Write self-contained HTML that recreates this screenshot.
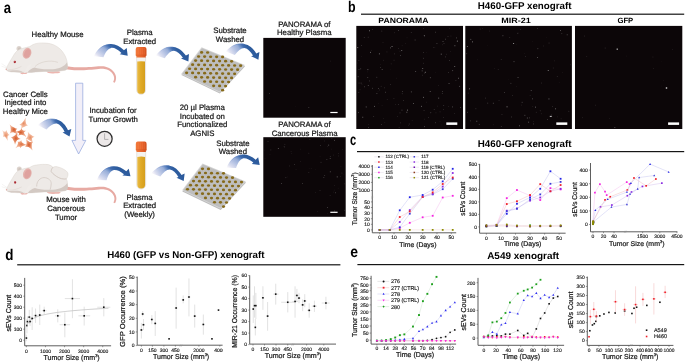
<!DOCTYPE html>
<html lang="en"><head><meta charset="utf-8"><title>Figure</title>
<style>
html,body{margin:0;padding:0;background:#fff;}
body{width:685px;height:363px;overflow:hidden;font-family:'Liberation Sans', sans-serif;}
svg{display:block;font-family:'Liberation Sans', sans-serif;text-rendering:geometricPrecision;}
</style></head><body>
<svg width="685" height="363" viewBox="0 0 685 363">
<defs>
<linearGradient id="ag" x1="0.02" y1="0.95" x2="0.98" y2="0.5">
<stop offset="0" stop-color="#f6f2f8" stop-opacity="0.35"/>
<stop offset="0.13" stop-color="#dfe1f1"/>
<stop offset="0.33" stop-color="#b7c4e4"/>
<stop offset="0.5" stop-color="#98aed8"/>
<stop offset="0.58" stop-color="#7092c8"/>
<stop offset="0.68" stop-color="#3f6bae"/>
<stop offset="0.8" stop-color="#2f5ea0"/>
<stop offset="1" stop-color="#2a5899"/>
</linearGradient>
<linearGradient id="ag2" x1="0" y1="0" x2="1" y2="0">
<stop offset="0" stop-color="#6d8cc6" stop-opacity="0"/>
<stop offset="0.5" stop-color="#5f82c0" stop-opacity="0.9"/>
<stop offset="1" stop-color="#4a74b6"/>
</linearGradient>
<radialGradient id="cellD"><stop offset="0" stop-color="#d25a2a"/><stop offset="0.3" stop-color="#e07a4e"/><stop offset="1" stop-color="#f3b89c"/></radialGradient>
<radialGradient id="cellM"><stop offset="0" stop-color="#dc7042"/><stop offset="0.3" stop-color="#e88e64"/><stop offset="1" stop-color="#f5c2a8"/></radialGradient>
<radialGradient id="cellL"><stop offset="0" stop-color="#e58c60"/><stop offset="0.3" stop-color="#eea684"/><stop offset="1" stop-color="#f8d2be"/></radialGradient>
<linearGradient id="tubeg" x1="0" y1="0" x2="1" y2="0">
<stop offset="0" stop-color="#e9bc48"/>
<stop offset="0.45" stop-color="#e0aa27"/>
<stop offset="1" stop-color="#d59e1c"/>
</linearGradient>
<linearGradient id="capg" x1="0" y1="0" x2="1" y2="0">
<stop offset="0" stop-color="#f27a3c"/>
<stop offset="0.6" stop-color="#e8622a"/>
<stop offset="1" stop-color="#d2501c"/>
</linearGradient>
</defs>
<text x="3.80" y="12.90" font-size="15.6" text-anchor="start" fill="#000" font-weight="bold" textLength="7.30" lengthAdjust="spacingAndGlyphs" >a</text>
<text x="57.60" y="37.20" font-size="7.8" text-anchor="middle" fill="#1a1a1a" stroke="#1a1a1a" stroke-width="0.234" >Healthy Mouse</text>
<text x="139.70" y="34.70" font-size="7.8" text-anchor="middle" fill="#1a1a1a" stroke="#1a1a1a" stroke-width="0.234" >Plasma</text>
<text x="139.70" y="43.80" font-size="7.8" text-anchor="middle" fill="#1a1a1a" stroke="#1a1a1a" stroke-width="0.234" >Extracted</text>
<text x="230.00" y="33.10" font-size="7.8" text-anchor="middle" fill="#1a1a1a" stroke="#1a1a1a" stroke-width="0.234" >Substrate</text>
<text x="230.00" y="41.80" font-size="7.8" text-anchor="middle" fill="#1a1a1a" stroke="#1a1a1a" stroke-width="0.234" >Washed</text>
<text x="304.30" y="26.90" font-size="7.8" text-anchor="middle" fill="#1a1a1a" stroke="#1a1a1a" stroke-width="0.234" >PANORAMA of</text>
<text x="304.30" y="35.30" font-size="7.8" text-anchor="middle" fill="#1a1a1a" stroke="#1a1a1a" stroke-width="0.234" >Healthy Plasma</text>
<text x="304.50" y="126.90" font-size="7.8" text-anchor="middle" fill="#1a1a1a" stroke="#1a1a1a" stroke-width="0.234" >PANORAMA of</text>
<text x="304.60" y="135.70" font-size="7.8" text-anchor="middle" fill="#1a1a1a" stroke="#1a1a1a" stroke-width="0.234" >Cancerous Plasma</text>
<text x="25.40" y="97.00" font-size="7.8" text-anchor="middle" fill="#1a1a1a" stroke="#1a1a1a" stroke-width="0.234" >Cancer Cells</text>
<text x="25.40" y="105.40" font-size="7.8" text-anchor="middle" fill="#1a1a1a" stroke="#1a1a1a" stroke-width="0.234" >Injected into</text>
<text x="25.40" y="113.90" font-size="7.8" text-anchor="middle" fill="#1a1a1a" stroke="#1a1a1a" stroke-width="0.234" >Healthy Mice</text>
<text x="113.00" y="112.50" font-size="7.8" text-anchor="middle" fill="#1a1a1a" stroke="#1a1a1a" stroke-width="0.234" >Incubation for</text>
<text x="113.20" y="121.60" font-size="7.8" text-anchor="middle" fill="#1a1a1a" stroke="#1a1a1a" stroke-width="0.234" >Tumor Growth</text>
<text x="202.30" y="109.90" font-size="7.8" text-anchor="middle" fill="#1a1a1a" stroke="#1a1a1a" stroke-width="0.234" >20 µl Plasma</text>
<text x="202.30" y="118.50" font-size="7.8" text-anchor="middle" fill="#1a1a1a" stroke="#1a1a1a" stroke-width="0.234" >Incubated on</text>
<text x="202.30" y="126.70" font-size="7.8" text-anchor="middle" fill="#1a1a1a" stroke="#1a1a1a" stroke-width="0.234" >Functionalized</text>
<text x="202.30" y="135.60" font-size="7.8" text-anchor="middle" fill="#1a1a1a" stroke="#1a1a1a" stroke-width="0.234" >AGNIS</text>
<text x="232.90" y="145.80" font-size="7.8" text-anchor="middle" fill="#1a1a1a" stroke="#1a1a1a" stroke-width="0.234" >Substrate</text>
<text x="232.90" y="154.10" font-size="7.8" text-anchor="middle" fill="#1a1a1a" stroke="#1a1a1a" stroke-width="0.234" >Washed</text>
<text x="66.00" y="202.20" font-size="7.8" text-anchor="middle" fill="#1a1a1a" stroke="#1a1a1a" stroke-width="0.234" >Mouse with</text>
<text x="66.00" y="211.00" font-size="7.8" text-anchor="middle" fill="#1a1a1a" stroke="#1a1a1a" stroke-width="0.234" >Cancerous</text>
<text x="66.00" y="220.00" font-size="7.8" text-anchor="middle" fill="#1a1a1a" stroke="#1a1a1a" stroke-width="0.234" >Tumor</text>
<text x="139.60" y="199.60" font-size="7.8" text-anchor="middle" fill="#1a1a1a" stroke="#1a1a1a" stroke-width="0.234" >Plasma</text>
<text x="139.60" y="208.10" font-size="7.8" text-anchor="middle" fill="#1a1a1a" stroke="#1a1a1a" stroke-width="0.234" >Extracted</text>
<text x="139.60" y="216.80" font-size="7.8" text-anchor="middle" fill="#1a1a1a" stroke="#1a1a1a" stroke-width="0.234" >(Weekly)</text>
<g transform="translate(93.90 56.20) rotate(0.00) scale(1.000)"><path d="M0,0 C2.5,-5 6,-10.6 15.9,-12.1 C21,-12.6 26,-10 30.1,-6.0 L32.8,-8.3 L33.8,-0.5 L25.8,-2.0 L27.5,-3.3 C24,-6.5 20.5,-8.6 17.2,-8.3 C14,-7.6 11.5,-4 9.6,1.0 Z" fill="url(#ag)"/><path d="M3.2,-4.6 C5.6,-8.4 9.6,-11.2 15.9,-11.8" fill="none" stroke="url(#ag2)" stroke-width="0.7"/></g>
<g transform="translate(155.80 55.50) rotate(11.45) scale(0.981)"><path d="M0,0 C2.5,-5 6,-10.6 15.9,-12.1 C21,-12.6 26,-10 30.1,-6.0 L32.8,-8.3 L33.8,-0.5 L25.8,-2.0 L27.5,-3.3 C24,-6.5 20.5,-8.6 17.2,-8.3 C14,-7.6 11.5,-4 9.6,1.0 Z" fill="url(#ag)"/><path d="M3.2,-4.6 C5.6,-8.4 9.6,-11.2 15.9,-11.8" fill="none" stroke="url(#ag2)" stroke-width="0.7"/></g>
<g transform="translate(225.80 51.60) rotate(14.80) scale(0.994)"><path d="M0,0 C2.5,-5 6,-10.6 15.9,-12.1 C21,-12.6 26,-10 30.1,-6.0 L32.8,-8.3 L33.8,-0.5 L25.8,-2.0 L27.5,-3.3 C24,-6.5 20.5,-8.6 17.2,-8.3 C14,-7.6 11.5,-4 9.6,1.0 Z" fill="url(#ag)"/><path d="M3.2,-4.6 C5.6,-8.4 9.6,-11.2 15.9,-11.8" fill="none" stroke="url(#ag2)" stroke-width="0.7"/></g>
<g transform="translate(37.90 125.20) rotate(20.68) scale(0.994)"><path d="M0,0 C2.5,-5 6,-10.6 15.9,-12.1 C21,-12.6 26,-10 30.1,-6.0 L32.8,-8.3 L33.8,-0.5 L25.8,-2.0 L27.5,-3.3 C24,-6.5 20.5,-8.6 17.2,-8.3 C14,-7.6 11.5,-4 9.6,1.0 Z" fill="url(#ag)"/><path d="M3.2,-4.6 C5.6,-8.4 9.6,-11.2 15.9,-11.8" fill="none" stroke="url(#ag2)" stroke-width="0.7"/></g>
<g transform="translate(97.00 180.10) rotate(-5.62) scale(0.997)"><path d="M0,0 C2.5,-5 6,-10.6 15.9,-12.1 C21,-12.6 26,-10 30.1,-6.0 L32.8,-8.3 L33.8,-0.5 L25.8,-2.0 L27.5,-3.3 C24,-6.5 20.5,-8.6 17.2,-8.3 C14,-7.6 11.5,-4 9.6,1.0 Z" fill="url(#ag)"/><path d="M3.2,-4.6 C5.6,-8.4 9.6,-11.2 15.9,-11.8" fill="none" stroke="url(#ag2)" stroke-width="0.7"/></g>
<g transform="translate(151.40 173.30) rotate(14.42) scale(0.983)"><path d="M0,0 C2.5,-5 6,-10.6 15.9,-12.1 C21,-12.6 26,-10 30.1,-6.0 L32.8,-8.3 L33.8,-0.5 L25.8,-2.0 L27.5,-3.3 C24,-6.5 20.5,-8.6 17.2,-8.3 C14,-7.6 11.5,-4 9.6,1.0 Z" fill="url(#ag)"/><path d="M3.2,-4.6 C5.6,-8.4 9.6,-11.2 15.9,-11.8" fill="none" stroke="url(#ag2)" stroke-width="0.7"/></g>
<g transform="translate(226.60 167.80) rotate(-4.16) scale(0.983)"><path d="M0,0 C2.5,-5 6,-10.6 15.9,-12.1 C21,-12.6 26,-10 30.1,-6.0 L32.8,-8.3 L33.8,-0.5 L25.8,-2.0 L27.5,-3.3 C24,-6.5 20.5,-8.6 17.2,-8.3 C14,-7.6 11.5,-4 9.6,1.0 Z" fill="url(#ag)"/><path d="M3.2,-4.6 C5.6,-8.4 9.6,-11.2 15.9,-11.8" fill="none" stroke="url(#ag2)" stroke-width="0.7"/></g>
<path d="M75.6,83.2 L82.8,83.2 L82.8,140.4 L85.8,140.4 L78.6,154.0 L71.9,140.4 L75.6,140.4 Z" fill="#f2eff8" stroke="#8fa5dc" stroke-width="0.7" stroke-linejoin="miter"/>
<g transform="translate(135.70 46.90)"><path d="M0.9,8 L0.9,43.0 A4.5,4.5 0 0 0 9.9,43.0 L9.9,8 Z" fill="#f4f2ee" stroke="#cfc9c1" stroke-width="0.45"/><path d="M1.5,14.70 Q5.4,13.90 9.3,14.70 L9.3,43.0 A3.9,3.9 0 0 1 1.5,43.0 Z" fill="url(#tubeg)"/><path d="M0,2.2 Q0,0 2.0,0 L8.8,0 Q10.8,0 10.8,2.2 L10.8,8.4 Q10.8,9.2 10.0,9.2 L10.1,10.5 L0.7,10.5 L0.8,9.2 Q0,9.2 0,8.4 Z" fill="url(#capg)"/><path d="M0.1,8.3 L10.7,8.3" stroke="#c64a1a" stroke-width="0.5" opacity="0.55"/><path d="M2.6,1 v6.6 M4.6,0.8 v6.8 M6.6,0.8 v6.8 M8.6,1 v6.6" stroke="#f59a66" stroke-width="0.35" opacity="0.55"/></g>
<g transform="translate(135.80 141.50)"><path d="M0.9,8 L0.9,43.0 A4.5,4.5 0 0 0 9.9,43.0 L9.9,8 Z" fill="#f4f2ee" stroke="#cfc9c1" stroke-width="0.45"/><path d="M1.5,15.50 Q5.4,14.70 9.3,15.50 L9.3,43.0 A3.9,3.9 0 0 1 1.5,43.0 Z" fill="url(#tubeg)"/><path d="M0,2.2 Q0,0 2.0,0 L8.8,0 Q10.8,0 10.8,2.2 L10.8,8.4 Q10.8,9.2 10.0,9.2 L10.1,10.5 L0.7,10.5 L0.8,9.2 Q0,9.2 0,8.4 Z" fill="url(#capg)"/><path d="M0.1,8.3 L10.7,8.3" stroke="#c64a1a" stroke-width="0.5" opacity="0.55"/><path d="M2.6,1 v6.6 M4.6,0.8 v6.8 M6.6,0.8 v6.8 M8.6,1 v6.6" stroke="#f59a66" stroke-width="0.35" opacity="0.55"/></g>
<circle cx="104.6" cy="138.8" r="7.55" fill="#ece8e8" stroke="#2e2e2e" stroke-width="1.25"/>
<path d="M104.6,133.4 L104.6,139.4 L108.4,139.4" fill="none" stroke="#8c8c8c" stroke-width="0.6"/>
<polygon points="201.80,48.40 245.10,66.20 219.80,93.60 181.40,75.10" fill="#bdbdbd"/>
<polygon points="201.60,47.20 244.90,65.00 219.60,92.40 181.20,73.90" fill="#d6d6d6"/>
<polygon points="202.02,48.14 243.48,65.25 219.39,91.43 182.42,73.68" fill="#bebebe"/>
<ellipse cx="201.60" cy="52.40" rx="1.6" ry="1.35" fill="#866a1a"/>
<ellipse cx="207.60" cy="52.52" rx="1.6" ry="1.35" fill="#866a1a"/>
<ellipse cx="198.60" cy="56.49" rx="1.6" ry="1.35" fill="#866a1a"/>
<ellipse cx="204.60" cy="56.61" rx="1.6" ry="1.35" fill="#866a1a"/>
<ellipse cx="210.60" cy="56.73" rx="1.6" ry="1.35" fill="#866a1a"/>
<ellipse cx="216.60" cy="56.85" rx="1.6" ry="1.35" fill="#866a1a"/>
<ellipse cx="222.60" cy="56.97" rx="1.6" ry="1.35" fill="#866a1a"/>
<ellipse cx="195.60" cy="60.58" rx="1.6" ry="1.35" fill="#866a1a"/>
<ellipse cx="201.60" cy="60.70" rx="1.6" ry="1.35" fill="#866a1a"/>
<ellipse cx="207.60" cy="60.82" rx="1.6" ry="1.35" fill="#866a1a"/>
<ellipse cx="213.60" cy="60.94" rx="1.6" ry="1.35" fill="#866a1a"/>
<ellipse cx="219.60" cy="61.06" rx="1.6" ry="1.35" fill="#866a1a"/>
<ellipse cx="225.60" cy="61.18" rx="1.6" ry="1.35" fill="#866a1a"/>
<ellipse cx="231.60" cy="61.30" rx="1.6" ry="1.35" fill="#866a1a"/>
<ellipse cx="192.60" cy="64.67" rx="1.6" ry="1.35" fill="#866a1a"/>
<ellipse cx="198.60" cy="64.79" rx="1.6" ry="1.35" fill="#866a1a"/>
<ellipse cx="204.60" cy="64.91" rx="1.6" ry="1.35" fill="#866a1a"/>
<ellipse cx="210.60" cy="65.03" rx="1.6" ry="1.35" fill="#866a1a"/>
<ellipse cx="216.60" cy="65.15" rx="1.6" ry="1.35" fill="#866a1a"/>
<ellipse cx="222.60" cy="65.27" rx="1.6" ry="1.35" fill="#866a1a"/>
<ellipse cx="228.60" cy="65.39" rx="1.6" ry="1.35" fill="#866a1a"/>
<ellipse cx="234.60" cy="65.51" rx="1.6" ry="1.35" fill="#866a1a"/>
<ellipse cx="240.60" cy="65.63" rx="1.6" ry="1.35" fill="#866a1a"/>
<ellipse cx="189.60" cy="68.76" rx="1.6" ry="1.35" fill="#866a1a"/>
<ellipse cx="195.60" cy="68.88" rx="1.6" ry="1.35" fill="#866a1a"/>
<ellipse cx="201.60" cy="69.00" rx="1.6" ry="1.35" fill="#866a1a"/>
<ellipse cx="207.60" cy="69.12" rx="1.6" ry="1.35" fill="#866a1a"/>
<ellipse cx="213.60" cy="69.24" rx="1.6" ry="1.35" fill="#866a1a"/>
<ellipse cx="219.60" cy="69.36" rx="1.6" ry="1.35" fill="#866a1a"/>
<ellipse cx="225.60" cy="69.48" rx="1.6" ry="1.35" fill="#866a1a"/>
<ellipse cx="231.60" cy="69.60" rx="1.6" ry="1.35" fill="#866a1a"/>
<ellipse cx="237.60" cy="69.72" rx="1.6" ry="1.35" fill="#866a1a"/>
<ellipse cx="186.60" cy="72.85" rx="1.6" ry="1.35" fill="#866a1a"/>
<ellipse cx="192.60" cy="72.97" rx="1.6" ry="1.35" fill="#866a1a"/>
<ellipse cx="198.60" cy="73.09" rx="1.6" ry="1.35" fill="#866a1a"/>
<ellipse cx="204.60" cy="73.21" rx="1.6" ry="1.35" fill="#866a1a"/>
<ellipse cx="210.60" cy="73.33" rx="1.6" ry="1.35" fill="#866a1a"/>
<ellipse cx="216.60" cy="73.45" rx="1.6" ry="1.35" fill="#866a1a"/>
<ellipse cx="222.60" cy="73.57" rx="1.6" ry="1.35" fill="#866a1a"/>
<ellipse cx="228.60" cy="73.69" rx="1.6" ry="1.35" fill="#866a1a"/>
<ellipse cx="234.60" cy="73.81" rx="1.6" ry="1.35" fill="#866a1a"/>
<ellipse cx="195.60" cy="77.18" rx="1.6" ry="1.35" fill="#866a1a"/>
<ellipse cx="201.60" cy="77.30" rx="1.6" ry="1.35" fill="#866a1a"/>
<ellipse cx="207.60" cy="77.42" rx="1.6" ry="1.35" fill="#866a1a"/>
<ellipse cx="213.60" cy="77.54" rx="1.6" ry="1.35" fill="#866a1a"/>
<ellipse cx="219.60" cy="77.66" rx="1.6" ry="1.35" fill="#866a1a"/>
<ellipse cx="225.60" cy="77.78" rx="1.6" ry="1.35" fill="#866a1a"/>
<ellipse cx="231.60" cy="77.90" rx="1.6" ry="1.35" fill="#866a1a"/>
<ellipse cx="204.60" cy="81.51" rx="1.6" ry="1.35" fill="#866a1a"/>
<ellipse cx="210.60" cy="81.63" rx="1.6" ry="1.35" fill="#866a1a"/>
<ellipse cx="216.60" cy="81.75" rx="1.6" ry="1.35" fill="#866a1a"/>
<ellipse cx="222.60" cy="81.87" rx="1.6" ry="1.35" fill="#866a1a"/>
<ellipse cx="228.60" cy="81.99" rx="1.6" ry="1.35" fill="#866a1a"/>
<ellipse cx="213.60" cy="85.84" rx="1.6" ry="1.35" fill="#866a1a"/>
<ellipse cx="219.60" cy="85.96" rx="1.6" ry="1.35" fill="#866a1a"/>
<ellipse cx="225.60" cy="86.08" rx="1.6" ry="1.35" fill="#866a1a"/>
<ellipse cx="222.60" cy="90.17" rx="1.6" ry="1.35" fill="#866a1a"/>
<polygon points="202.70,164.80 246.00,182.60 220.70,210.00 182.30,191.50" fill="#bdbdbd"/>
<polygon points="202.50,163.60 245.80,181.40 220.50,208.80 182.10,190.30" fill="#d6d6d6"/>
<polygon points="202.92,164.54 244.38,181.65 220.29,207.83 183.32,190.08" fill="#bebebe"/>
<ellipse cx="202.50" cy="168.80" rx="1.6" ry="1.35" fill="#866a1a"/>
<ellipse cx="208.50" cy="168.92" rx="1.6" ry="1.35" fill="#866a1a"/>
<ellipse cx="199.50" cy="172.89" rx="1.6" ry="1.35" fill="#866a1a"/>
<ellipse cx="205.50" cy="173.01" rx="1.6" ry="1.35" fill="#866a1a"/>
<ellipse cx="211.50" cy="173.13" rx="1.6" ry="1.35" fill="#866a1a"/>
<ellipse cx="217.50" cy="173.25" rx="1.6" ry="1.35" fill="#866a1a"/>
<ellipse cx="223.50" cy="173.37" rx="1.6" ry="1.35" fill="#866a1a"/>
<ellipse cx="196.50" cy="176.98" rx="1.6" ry="1.35" fill="#866a1a"/>
<ellipse cx="202.50" cy="177.10" rx="1.6" ry="1.35" fill="#866a1a"/>
<ellipse cx="208.50" cy="177.22" rx="1.6" ry="1.35" fill="#866a1a"/>
<ellipse cx="214.50" cy="177.34" rx="1.6" ry="1.35" fill="#866a1a"/>
<ellipse cx="220.50" cy="177.46" rx="1.6" ry="1.35" fill="#866a1a"/>
<ellipse cx="226.50" cy="177.58" rx="1.6" ry="1.35" fill="#866a1a"/>
<ellipse cx="232.50" cy="177.70" rx="1.6" ry="1.35" fill="#866a1a"/>
<ellipse cx="193.50" cy="181.07" rx="1.6" ry="1.35" fill="#866a1a"/>
<ellipse cx="199.50" cy="181.19" rx="1.6" ry="1.35" fill="#866a1a"/>
<ellipse cx="205.50" cy="181.31" rx="1.6" ry="1.35" fill="#866a1a"/>
<ellipse cx="211.50" cy="181.43" rx="1.6" ry="1.35" fill="#866a1a"/>
<ellipse cx="217.50" cy="181.55" rx="1.6" ry="1.35" fill="#866a1a"/>
<ellipse cx="223.50" cy="181.67" rx="1.6" ry="1.35" fill="#866a1a"/>
<ellipse cx="229.50" cy="181.79" rx="1.6" ry="1.35" fill="#866a1a"/>
<ellipse cx="235.50" cy="181.91" rx="1.6" ry="1.35" fill="#866a1a"/>
<ellipse cx="241.50" cy="182.03" rx="1.6" ry="1.35" fill="#866a1a"/>
<ellipse cx="190.50" cy="185.16" rx="1.6" ry="1.35" fill="#866a1a"/>
<ellipse cx="196.50" cy="185.28" rx="1.6" ry="1.35" fill="#866a1a"/>
<ellipse cx="202.50" cy="185.40" rx="1.6" ry="1.35" fill="#866a1a"/>
<ellipse cx="208.50" cy="185.52" rx="1.6" ry="1.35" fill="#866a1a"/>
<ellipse cx="214.50" cy="185.64" rx="1.6" ry="1.35" fill="#866a1a"/>
<ellipse cx="220.50" cy="185.76" rx="1.6" ry="1.35" fill="#866a1a"/>
<ellipse cx="226.50" cy="185.88" rx="1.6" ry="1.35" fill="#866a1a"/>
<ellipse cx="232.50" cy="186.00" rx="1.6" ry="1.35" fill="#866a1a"/>
<ellipse cx="238.50" cy="186.12" rx="1.6" ry="1.35" fill="#866a1a"/>
<ellipse cx="187.50" cy="189.25" rx="1.6" ry="1.35" fill="#866a1a"/>
<ellipse cx="193.50" cy="189.37" rx="1.6" ry="1.35" fill="#866a1a"/>
<ellipse cx="199.50" cy="189.49" rx="1.6" ry="1.35" fill="#866a1a"/>
<ellipse cx="205.50" cy="189.61" rx="1.6" ry="1.35" fill="#866a1a"/>
<ellipse cx="211.50" cy="189.73" rx="1.6" ry="1.35" fill="#866a1a"/>
<ellipse cx="217.50" cy="189.85" rx="1.6" ry="1.35" fill="#866a1a"/>
<ellipse cx="223.50" cy="189.97" rx="1.6" ry="1.35" fill="#866a1a"/>
<ellipse cx="229.50" cy="190.09" rx="1.6" ry="1.35" fill="#866a1a"/>
<ellipse cx="235.50" cy="190.21" rx="1.6" ry="1.35" fill="#866a1a"/>
<ellipse cx="196.50" cy="193.58" rx="1.6" ry="1.35" fill="#866a1a"/>
<ellipse cx="202.50" cy="193.70" rx="1.6" ry="1.35" fill="#866a1a"/>
<ellipse cx="208.50" cy="193.82" rx="1.6" ry="1.35" fill="#866a1a"/>
<ellipse cx="214.50" cy="193.94" rx="1.6" ry="1.35" fill="#866a1a"/>
<ellipse cx="220.50" cy="194.06" rx="1.6" ry="1.35" fill="#866a1a"/>
<ellipse cx="226.50" cy="194.18" rx="1.6" ry="1.35" fill="#866a1a"/>
<ellipse cx="232.50" cy="194.30" rx="1.6" ry="1.35" fill="#866a1a"/>
<ellipse cx="205.50" cy="197.91" rx="1.6" ry="1.35" fill="#866a1a"/>
<ellipse cx="211.50" cy="198.03" rx="1.6" ry="1.35" fill="#866a1a"/>
<ellipse cx="217.50" cy="198.15" rx="1.6" ry="1.35" fill="#866a1a"/>
<ellipse cx="223.50" cy="198.27" rx="1.6" ry="1.35" fill="#866a1a"/>
<ellipse cx="229.50" cy="198.39" rx="1.6" ry="1.35" fill="#866a1a"/>
<ellipse cx="214.50" cy="202.24" rx="1.6" ry="1.35" fill="#866a1a"/>
<ellipse cx="220.50" cy="202.36" rx="1.6" ry="1.35" fill="#866a1a"/>
<ellipse cx="226.50" cy="202.48" rx="1.6" ry="1.35" fill="#866a1a"/>
<ellipse cx="223.50" cy="206.57" rx="1.6" ry="1.35" fill="#866a1a"/>
<g transform="translate(0.00 0.00)">
<path d="M66.15,69.16 L67.90,69.53 L69.87,69.82 L71.98,70.04 L74.20,70.18 L76.53,70.26 L78.94,70.27 L81.41,70.23 L83.93,70.14 L86.46,70.01 L89.00,69.84 L91.52,69.64 L94.00,69.40 L96.41,69.15 L98.72,68.88 L100.22,68.75 L101.66,68.72 L103.06,68.79 L104.41,68.97 L105.69,69.24 L106.91,69.60 L108.06,70.06 L109.13,70.61 L110.12,71.25 L111.02,71.97 L111.83,72.79 L112.54,73.69 L113.15,74.68 L113.65,75.75 L114.00,76.88 L114.13,77.95 L114.09,79.00 L113.89,80.02 L113.56,81.01 L113.09,82.01 L114.71,82.79 L115.25,81.72 L115.69,80.53 L115.98,79.25 L116.08,77.90 L115.95,76.49 L115.55,75.05 L114.98,73.73 L114.28,72.51 L113.45,71.39 L112.50,70.38 L111.44,69.47 L110.29,68.68 L109.04,67.99 L107.71,67.41 L106.31,66.95 L104.84,66.60 L103.32,66.36 L101.74,66.23 L100.12,66.22 L98.48,66.32 L96.15,66.55 L93.76,66.76 L91.31,66.95 L88.82,67.11 L86.32,67.24 L83.83,67.32 L81.36,67.37 L78.95,67.36 L76.61,67.31 L74.38,67.19 L72.26,67.01 L70.29,66.76 L68.50,66.44 L66.85,66.04Z" fill="#e7aaa3"/>
<path d="M46.3,71.2 C50,70.4 57,70.6 60.2,71.8 C60.8,73.0 58,73.5 55,73.2 C52,73.7 47,73.5 46.3,71.2 Z" fill="#ecb6b0"/>
<path d="M20.2,72.8 C22,71.6 26,71.4 27.4,72.4 C27.6,73.8 25.6,74.2 23.6,74.0 C22.2,74.4 20.2,74.0 20.2,72.8 Z" fill="#ecb6b0"/>
<ellipse cx="19.0" cy="48.6" rx="2.5" ry="2.7" fill="#ddd4ce"/>
<ellipse cx="19.3" cy="48.9" rx="1.4" ry="1.6" fill="#cfc4bd"/>
<path d="M6.0,69.2 C7.5,65.5 9.5,62 12,58 C14,54.5 15.5,52 17.5,50.5 C21,48.5 25,47.8 29.7,46.6 C32,45 34,43.9 36.3,43.5 C39.5,42.8 43,42.8 46.3,43.1 C49.5,43.4 52.5,44.2 55.1,45.5 C58,47 60.8,49.3 62.8,52.1 C64.6,54.6 65.9,57.2 66.6,59.8 C67.4,62.5 67.8,65 67.4,67.5 C67.2,69 66.4,69.9 65,70.3 C58,71.6 51,71.6 44,71.4 C38,71.8 33,72.3 27.5,72.5 C22,72.3 16,72.2 11,71.9 C9,71.6 7.2,71.1 6.6,70.3 C6,70 5.8,69.6 6.0,69.2 Z" fill="#eeeae7" stroke="#d6cec8" stroke-width="0.4"/>
<path d="M66.9,62.5 C67.6,65 67.8,66.2 67.4,67.8 C67.2,69.2 66.4,69.9 65,70.3 C58,71.6 51,71.6 44,71.4 C38,71.8 33,72.3 27.5,72.5 C29,70 31.6,68.6 34.6,67.6 C38,69.2 46,69.6 53,69.2 C59,68.8 64.4,66.6 66.9,62.5 Z" fill="#d3c9c3"/>
<path d="M6.6,70.3 C7.2,71.1 9,71.6 11,71.9 C16,72.2 20,72.3 23,72.4 C22,71 20,70.4 17,70.2 C13,70.2 9,70.6 6.6,70.3 Z" fill="#d6ccc6"/>
<path d="M31.5,63.5 C30.5,66 29.5,68.5 28.4,70.5 C27.6,72 26,72.8 23.6,72.9 C25.4,71 26.6,68.6 27.6,66 Z" fill="#f0ece9"/>
<path d="M35,66.6 C39,62 50,59.4 58,62.4" fill="none" stroke="#ddd5cf" stroke-width="0.8"/>
<path d="M8.4,69.6 C12,70 17,68.8 21.4,66.4" fill="none" stroke="#ddd5cf" stroke-width="0.6"/>
<ellipse cx="27.0" cy="53.2" rx="4.2" ry="5.6" fill="#e4b3ae" transform="rotate(20 27 53.2)"/>
<ellipse cx="27.3" cy="53.5" rx="3.0" ry="4.4" fill="#dfa29f" transform="rotate(20 27.3 53.5)"/>
<circle cx="14.8" cy="62.0" r="1.15" fill="#a8242c"/>
<circle cx="14.5" cy="61.7" r="0.3" fill="#f5d0d0"/>
<circle cx="6.3" cy="69.3" r="0.7" fill="#e4a9a4"/>
<path d="M7.5,67.6 L1.6,63.6 M7.5,68.2 L1.4,66.2" stroke="#e6e1de" stroke-width="0.35" fill="none"/>
</g>
<g transform="translate(0.30 120.50)">
<path d="M66.15,69.16 L67.90,69.53 L69.87,69.82 L71.98,70.04 L74.20,70.18 L76.53,70.26 L78.94,70.27 L81.41,70.23 L83.93,70.14 L86.46,70.01 L89.00,69.84 L91.52,69.64 L94.00,69.40 L96.41,69.15 L98.72,68.88 L100.22,68.75 L101.66,68.72 L103.06,68.79 L104.41,68.97 L105.69,69.24 L106.91,69.60 L108.06,70.06 L109.13,70.61 L110.12,71.25 L111.02,71.97 L111.83,72.79 L112.54,73.69 L113.15,74.68 L113.65,75.75 L114.00,76.88 L114.13,77.95 L114.09,79.00 L113.89,80.02 L113.56,81.01 L113.09,82.01 L114.71,82.79 L115.25,81.72 L115.69,80.53 L115.98,79.25 L116.08,77.90 L115.95,76.49 L115.55,75.05 L114.98,73.73 L114.28,72.51 L113.45,71.39 L112.50,70.38 L111.44,69.47 L110.29,68.68 L109.04,67.99 L107.71,67.41 L106.31,66.95 L104.84,66.60 L103.32,66.36 L101.74,66.23 L100.12,66.22 L98.48,66.32 L96.15,66.55 L93.76,66.76 L91.31,66.95 L88.82,67.11 L86.32,67.24 L83.83,67.32 L81.36,67.37 L78.95,67.36 L76.61,67.31 L74.38,67.19 L72.26,67.01 L70.29,66.76 L68.50,66.44 L66.85,66.04Z" fill="#e7aaa3"/>
<path d="M46.3,71.2 C50,70.4 57,70.6 60.2,71.8 C60.8,73.0 58,73.5 55,73.2 C52,73.7 47,73.5 46.3,71.2 Z" fill="#ecb6b0"/>
<path d="M20.2,72.8 C22,71.6 26,71.4 27.4,72.4 C27.6,73.8 25.6,74.2 23.6,74.0 C22.2,74.4 20.2,74.0 20.2,72.8 Z" fill="#ecb6b0"/>
<ellipse cx="19.0" cy="48.6" rx="2.5" ry="2.7" fill="#ddd4ce"/>
<ellipse cx="19.3" cy="48.9" rx="1.4" ry="1.6" fill="#cfc4bd"/>
<path d="M6.0,69.2 C7.5,65.5 9.5,62 12,58 C14,54.5 15.5,52 17.5,50.5 C21,48.5 25,47.8 29.4,47.0 C31.5,45.6 33.6,44.8 36,44.5 C40,43.8 44.4,43.7 48.2,44.1 C50,44.6 51.6,45.6 52.6,46.8 C54,46.0 55.6,45.9 57,46.3 C60,47 62.8,48.2 64.7,49.6 C66.6,50.8 67.8,52.2 67.7,53.8 C67.7,55.6 67,57.2 66.1,58.4 C66.9,60 67.3,61.6 67.2,63.2 C67.3,65 67,66.8 66.5,68.4 C66.2,69.4 65.6,70 64.7,70.3 C58,71.6 51,71.6 44,71.4 C38,71.8 33,72.3 27.5,72.5 C22,72.3 16,72.2 11,71.9 C9,71.6 7.2,71.1 6.6,70.3 C6,70 5.8,69.6 6.0,69.2 Z" fill="#eeeae7" stroke="#d6cec8" stroke-width="0.4"/>
<path d="M66.9,62.5 C67.6,65 67.8,66.2 67.4,67.8 C67.2,69.2 66.4,69.9 65,70.3 C58,71.6 51,71.6 44,71.4 C38,71.8 33,72.3 27.5,72.5 C29,70 31.6,68.6 34.6,67.6 C38,69.2 46,69.6 53,69.2 C59,68.8 64.4,66.6 66.9,62.5 Z" fill="#d3c9c3"/>
<path d="M6.6,70.3 C7.2,71.1 9,71.6 11,71.9 C16,72.2 20,72.3 23,72.4 C22,71 20,70.4 17,70.2 C13,70.2 9,70.6 6.6,70.3 Z" fill="#d6ccc6"/>
<path d="M31.5,63.5 C30.5,66 29.5,68.5 28.4,70.5 C27.6,72 26,72.8 23.6,72.9 C25.4,71 26.6,68.6 27.6,66 Z" fill="#f0ece9"/>
<path d="M52.6,46.8 C51.4,48.2 50.8,49.6 50.9,51.1 C52,52.6 53.2,53.8 54.8,54.9 C56.8,56.4 59,57.6 61.4,58.2 C63,58.6 64.6,58.6 66.1,58.4" fill="none" stroke="#cdc3bc" stroke-width="0.85"/>
<path d="M36.4,66.0 C36.2,60.6 40,57.1 43.8,57.1 C48,57.2 51.2,60 50.9,63.4 C50.8,65.6 50.4,67.6 49.8,69.2" fill="none" stroke="#d4cbc5" stroke-width="0.85"/>
<path d="M8.4,69.6 C12,70 17,68.8 21.4,66.4" fill="none" stroke="#ddd5cf" stroke-width="0.6"/>
<ellipse cx="27.0" cy="53.2" rx="4.2" ry="5.6" fill="#e4b3ae" transform="rotate(20 27 53.2)"/>
<ellipse cx="27.3" cy="53.5" rx="3.0" ry="4.4" fill="#dfa29f" transform="rotate(20 27.3 53.5)"/>
<circle cx="14.8" cy="62.0" r="1.15" fill="#a8242c"/>
<circle cx="14.5" cy="61.7" r="0.3" fill="#f5d0d0"/>
<circle cx="6.3" cy="69.3" r="0.7" fill="#e4a9a4"/>
<path d="M7.5,67.6 L1.6,63.6 M7.5,68.2 L1.4,66.2" stroke="#e6e1de" stroke-width="0.35" fill="none"/>
</g>
<path d="M7.78,141.04 Q6.29,137.86 5.09,136.68 Q4.40,136.19 2.93,136.76 Q3.77,135.19 3.48,134.12 Q3.52,132.63 2.29,130.20 Q4.17,131.74 5.14,131.83 Q5.85,131.68 6.60,130.05 Q6.85,132.12 7.70,132.97 Q8.04,134.03 9.64,134.93 Q8.03,135.19 7.69,135.97 Q7.31,137.58 7.78,141.04 Z" fill="url(#cellL)"/>
<path d="M18.21,134.92 Q15.15,132.84 13.20,132.36 Q11.86,132.26 9.75,133.42 Q10.92,131.23 10.80,129.74 Q10.90,127.77 9.70,124.55 Q12.17,126.91 14.07,127.54 Q15.14,128.51 17.30,128.65 Q15.85,129.72 15.90,130.63 Q16.21,132.17 18.21,134.92 Z" fill="url(#cellD)"/>
<path d="M25.84,117.61 Q25.39,121.33 25.95,123.22 Q26.25,124.41 28.05,125.49 Q25.71,125.82 24.57,126.85 Q22.86,127.26 20.73,129.17 Q21.67,126.84 21.54,125.77 Q21.11,125.10 19.28,124.70 Q21.36,123.90 22.19,122.71 Q23.92,121.14 25.84,117.61 Z" fill="url(#cellL)"/>
<path d="M26.63,137.00 Q23.53,135.04 21.58,134.69 Q20.23,134.55 18.16,135.73 Q19.27,133.95 19.11,133.17 Q17.96,132.46 14.81,131.91 Q18.26,131.43 19.87,130.53 Q20.83,129.86 21.42,127.88 Q22.00,129.78 22.87,130.31 Q23.81,130.92 26.04,130.81 Q24.19,131.87 23.84,132.74 Q24.41,134.28 26.63,137.00 Z" fill="url(#cellD)"/>
<path d="M17.30,131.98 Q16.97,135.36 17.52,137.02 Q18.31,138.13 20.76,139.09 Q18.10,139.41 16.96,140.29 Q15.86,141.66 15.03,144.87 Q14.41,141.55 13.24,140.02 Q12.83,138.63 10.98,137.37 Q13.16,137.11 14.07,136.11 Q15.62,135.00 17.30,131.98 Z" fill="url(#cellD)"/>
<path d="M33.23,143.53 Q30.75,140.75 28.81,139.88 Q27.81,138.87 25.68,138.69 Q27.34,137.47 27.62,136.30 Q28.19,134.78 27.86,131.79 Q29.62,134.29 31.29,135.04 Q32.26,136.26 34.63,136.85 Q32.50,137.61 31.90,138.48 Q31.95,140.21 33.23,143.53 Z" fill="url(#cellL)"/>
<path d="M27.37,145.06 Q23.79,145.31 22.12,146.19 Q21.04,146.58 20.31,148.30 Q19.90,146.74 19.21,146.60 Q17.96,146.71 15.33,148.24 Q17.42,145.71 17.82,144.04 Q18.33,143.05 17.68,141.42 Q19.04,142.09 19.62,141.57 Q20.43,141.52 21.25,139.97 Q21.51,141.99 22.39,142.76 Q23.89,143.98 27.37,145.06 Z" fill="url(#cellM)"/>
<path d="M32.49,150.60 Q30.21,147.84 28.49,147.02 Q27.31,146.42 25.06,146.95 Q26.53,145.15 26.50,143.77 Q26.85,142.09 25.87,139.10 Q28.08,141.36 29.67,141.91 Q30.80,142.37 32.84,141.70 Q31.62,143.57 31.77,144.98 Q31.49,147.04 32.49,150.60 Z" fill="url(#cellD)"/>
<rect x="263.3" y="37.9" width="82.4" height="79.8" fill="#0c0608"/>
<rect x="269.2" y="93.0" width="0.71" height="0.71" fill="#fff" opacity="0.30"/>
<rect x="330.2" y="60.8" width="0.56" height="0.56" fill="#fff" opacity="0.23"/>
<rect x="266.1" y="74.5" width="0.44" height="0.44" fill="#fff" opacity="0.12"/>
<rect x="269.0" y="98.1" width="0.42" height="0.42" fill="#fff" opacity="0.15"/>
<rect x="295.7" y="106.1" width="0.39" height="0.39" fill="#fff" opacity="0.19"/>
<rect x="308.4" y="107.0" width="0.80" height="0.80" fill="#fff" opacity="0.27"/>
<rect x="330.3" y="111.9" width="7.3" height="1.2" fill="#fff"/>
<rect x="263.3" y="137.2" width="82.4" height="79.6" fill="#0c0608"/>
<rect x="335.0" y="211.9" width="0.48" height="0.48" fill="#fff" opacity="0.21"/>
<rect x="295.7" y="168.9" width="0.69" height="0.69" fill="#fff" opacity="0.14"/>
<rect x="269.7" y="154.3" width="0.55" height="0.55" fill="#fff" opacity="0.14"/>
<rect x="264.3" y="149.8" width="0.56" height="0.56" fill="#fff" opacity="0.13"/>
<rect x="334.2" y="185.5" width="0.51" height="0.51" fill="#fff" opacity="0.25"/>
<rect x="343.7" y="174.1" width="0.44" height="0.44" fill="#fff" opacity="0.16"/>
<rect x="333.4" y="191.8" width="0.57" height="0.57" fill="#fff" opacity="0.18"/>
<rect x="329.8" y="195.2" width="0.63" height="0.63" fill="#fff" opacity="0.26"/>
<rect x="340.7" y="166.3" width="0.50" height="0.50" fill="#fff" opacity="0.19"/>
<rect x="328.3" y="144.7" width="0.81" height="0.81" fill="#fff" opacity="0.42"/>
<rect x="324.3" y="175.0" width="0.76" height="0.76" fill="#fff" opacity="0.25"/>
<rect x="277.9" y="148.0" width="0.81" height="0.81" fill="#fff" opacity="0.43"/>
<rect x="327.0" y="146.4" width="0.51" height="0.51" fill="#fff" opacity="0.23"/>
<rect x="334.4" y="210.7" width="0.65" height="0.65" fill="#fff" opacity="0.48"/>
<rect x="331.5" y="148.8" width="0.60" height="0.60" fill="#fff" opacity="0.15"/>
<rect x="327.0" y="207.3" width="0.72" height="0.72" fill="#fff" opacity="0.37"/>
<rect x="291.4" y="153.3" width="0.72" height="0.72" fill="#fff" opacity="0.13"/>
<rect x="308.6" y="172.1" width="0.55" height="0.55" fill="#fff" opacity="0.36"/>
<rect x="327.4" y="213.0" width="0.52" height="0.52" fill="#fff" opacity="0.14"/>
<rect x="326.6" y="159.0" width="0.59" height="0.59" fill="#fff" opacity="0.47"/>
<rect x="329.8" y="158.1" width="0.81" height="0.81" fill="#fff" opacity="0.34"/>
<rect x="320.3" y="145.1" width="0.71" height="0.71" fill="#fff" opacity="0.28"/>
<rect x="283.4" y="146.6" width="0.42" height="0.42" fill="#fff" opacity="0.20"/>
<rect x="287.5" y="176.7" width="0.56" height="0.56" fill="#fff" opacity="0.13"/>
<rect x="308.4" y="152.8" width="0.82" height="0.82" fill="#fff" opacity="0.16"/>
<rect x="329.8" y="171.5" width="0.78" height="0.78" fill="#fff" opacity="0.27"/>
<rect x="315.2" y="169.4" width="0.42" height="0.42" fill="#fff" opacity="0.17"/>
<rect x="333.9" y="189.8" width="0.51" height="0.51" fill="#fff" opacity="0.23"/>
<rect x="289.1" y="165.7" width="0.57" height="0.57" fill="#fff" opacity="0.30"/>
<rect x="264.7" y="158.5" width="0.58" height="0.58" fill="#fff" opacity="0.14"/>
<rect x="319.8" y="155.9" width="0.46" height="0.46" fill="#fff" opacity="0.26"/>
<rect x="284.5" y="143.9" width="0.73" height="0.73" fill="#fff" opacity="0.20"/>
<rect x="270.5" y="149.6" width="0.73" height="0.73" fill="#fff" opacity="0.24"/>
<rect x="309.7" y="139.2" width="0.52" height="0.52" fill="#fff" opacity="0.38"/>
<rect x="319.7" y="190.2" width="0.63" height="0.63" fill="#fff" opacity="0.30"/>
<rect x="341.7" y="172.8" width="0.49" height="0.49" fill="#fff" opacity="0.48"/>
<rect x="281.2" y="183.0" width="0.64" height="0.64" fill="#fff" opacity="0.48"/>
<rect x="335.2" y="192.4" width="0.80" height="0.80" fill="#fff" opacity="0.30"/>
<rect x="300.4" y="161.5" width="0.55" height="0.55" fill="#fff" opacity="0.24"/>
<rect x="331.5" y="138.3" width="0.78" height="0.78" fill="#fff" opacity="0.17"/>
<rect x="344.2" y="183.6" width="0.59" height="0.59" fill="#fff" opacity="0.22"/>
<rect x="285.6" y="177.5" width="0.57" height="0.57" fill="#fff" opacity="0.48"/>
<rect x="308.9" y="168.6" width="0.47" height="0.47" fill="#fff" opacity="0.20"/>
<rect x="336.8" y="176.5" width="0.81" height="0.81" fill="#fff" opacity="0.50"/>
<rect x="300.3" y="148.9" width="0.44" height="0.44" fill="#fff" opacity="0.25"/>
<rect x="294.4" y="164.2" width="0.52" height="0.52" fill="#fff" opacity="0.49"/>
<rect x="333.3" y="154.8" width="0.51" height="0.51" fill="#fff" opacity="0.27"/>
<rect x="334.1" y="139.9" width="0.72" height="0.72" fill="#fff" opacity="0.46"/>
<rect x="302.2" y="183.4" width="0.58" height="0.58" fill="#fff" opacity="0.47"/>
<rect x="284.2" y="146.6" width="0.64" height="0.64" fill="#fff" opacity="0.38"/>
<rect x="337.9" y="187.9" width="0.46" height="0.46" fill="#fff" opacity="0.22"/>
<rect x="315.2" y="192.0" width="0.43" height="0.43" fill="#fff" opacity="0.32"/>
<rect x="310.9" y="168.1" width="0.67" height="0.67" fill="#fff" opacity="0.12"/>
<rect x="320.7" y="161.9" width="0.62" height="0.62" fill="#fff" opacity="0.38"/>
<rect x="338.3" y="155.7" width="0.55" height="0.55" fill="#fff" opacity="0.28"/>
<rect x="323.4" y="177.1" width="0.84" height="0.84" fill="#fff" opacity="0.24"/>
<rect x="329.9" y="156.0" width="0.74" height="0.74" fill="#fff" opacity="0.23"/>
<rect x="340.5" y="176.4" width="0.50" height="0.50" fill="#fff" opacity="0.28"/>
<rect x="317.5" y="211.3" width="0.58" height="0.58" fill="#fff" opacity="0.20"/>
<rect x="342.2" y="149.1" width="0.43" height="0.43" fill="#fff" opacity="0.27"/>
<rect x="344.1" y="209.9" width="0.48" height="0.48" fill="#fff" opacity="0.48"/>
<rect x="324.0" y="140.7" width="0.57" height="0.57" fill="#fff" opacity="0.26"/>
<rect x="290.8" y="151.2" width="0.53" height="0.53" fill="#fff" opacity="0.25"/>
<rect x="330.1" y="171.5" width="0.61" height="0.61" fill="#fff" opacity="0.26"/>
<rect x="337.9" y="153.1" width="0.80" height="0.80" fill="#fff" opacity="0.13"/>
<rect x="267.6" y="140.9" width="0.81" height="0.81" fill="#fff" opacity="0.22"/>
<rect x="330.3" y="211.7" width="7.3" height="1.2" fill="#fff"/>
<text x="347.90" y="12.00" font-size="15.4" text-anchor="start" fill="#000" font-weight="bold" textLength="7.60" lengthAdjust="spacingAndGlyphs" >b</text>
<text x="477.80" y="8.70" font-size="9.8" text-anchor="start" fill="#000" font-weight="bold" textLength="93.70" lengthAdjust="spacingAndGlyphs" >H460-GFP xenograft</text>
<rect x="361" y="13.6" width="323.2" height="1.2" fill="#161616"/>
<text x="378.30" y="23.10" font-size="7.6" text-anchor="start" fill="#000" font-weight="bold" textLength="50.20" lengthAdjust="spacingAndGlyphs" >PANORAMA</text>
<text x="501.30" y="23.10" font-size="7.6" text-anchor="start" fill="#000" font-weight="bold" textLength="29.60" lengthAdjust="spacingAndGlyphs" >MIR-21</text>
<text x="617.40" y="23.10" font-size="7.6" text-anchor="start" fill="#000" font-weight="bold" textLength="15.90" lengthAdjust="spacingAndGlyphs" >GFP</text>
<rect x="356.3" y="25.9" width="106.7" height="103.1" fill="#0c0608"/>
<rect x="454.5" y="45.4" width="0.79" height="0.79" fill="#fff" opacity="0.55"/>
<rect x="443.4" y="105.0" width="0.68" height="0.68" fill="#fff" opacity="0.31"/>
<rect x="390.8" y="63.5" width="0.78" height="0.78" fill="#fff" opacity="0.17"/>
<rect x="378.0" y="103.0" width="0.49" height="0.49" fill="#fff" opacity="0.16"/>
<rect x="360.8" y="82.8" width="0.53" height="0.53" fill="#fff" opacity="0.69"/>
<rect x="449.8" y="126.8" width="0.50" height="0.50" fill="#fff" opacity="0.17"/>
<rect x="367.4" y="77.3" width="0.74" height="0.74" fill="#fff" opacity="0.38"/>
<rect x="381.8" y="69.0" width="0.69" height="0.69" fill="#fff" opacity="0.51"/>
<rect x="435.6" y="112.5" width="0.72" height="0.72" fill="#fff" opacity="0.19"/>
<rect x="445.3" y="56.6" width="0.66" height="0.66" fill="#fff" opacity="0.34"/>
<rect x="434.6" y="47.0" width="0.49" height="0.49" fill="#fff" opacity="0.26"/>
<rect x="373.4" y="116.3" width="0.67" height="0.67" fill="#fff" opacity="0.31"/>
<rect x="398.8" y="127.2" width="0.63" height="0.63" fill="#fff" opacity="0.25"/>
<rect x="441.9" y="93.0" width="0.90" height="0.90" fill="#fff" opacity="0.18"/>
<rect x="407.0" y="109.7" width="0.81" height="0.81" fill="#fff" opacity="0.65"/>
<rect x="361.5" y="56.6" width="0.42" height="0.42" fill="#fff" opacity="0.23"/>
<rect x="459.2" y="85.9" width="0.86" height="0.86" fill="#fff" opacity="0.34"/>
<rect x="448.0" y="72.3" width="0.49" height="0.49" fill="#fff" opacity="0.57"/>
<rect x="456.3" y="37.6" width="0.68" height="0.68" fill="#fff" opacity="0.48"/>
<rect x="380.1" y="64.2" width="0.43" height="0.43" fill="#fff" opacity="0.24"/>
<rect x="384.0" y="87.5" width="0.71" height="0.71" fill="#fff" opacity="0.24"/>
<rect x="358.5" y="60.0" width="0.72" height="0.72" fill="#fff" opacity="0.23"/>
<rect x="390.0" y="47.5" width="0.79" height="0.79" fill="#fff" opacity="0.44"/>
<rect x="363.9" y="37.2" width="0.57" height="0.57" fill="#fff" opacity="0.44"/>
<rect x="424.2" y="36.1" width="0.44" height="0.44" fill="#fff" opacity="0.52"/>
<rect x="400.2" y="55.5" width="0.52" height="0.52" fill="#fff" opacity="0.67"/>
<rect x="390.0" y="84.2" width="0.55" height="0.55" fill="#fff" opacity="0.36"/>
<rect x="447.8" y="127.7" width="0.55" height="0.55" fill="#fff" opacity="0.23"/>
<rect x="433.5" y="47.5" width="0.35" height="0.35" fill="#fff" opacity="0.64"/>
<rect x="401.7" y="109.8" width="0.57" height="0.57" fill="#fff" opacity="0.63"/>
<rect x="405.6" y="43.3" width="0.36" height="0.36" fill="#fff" opacity="0.44"/>
<rect x="424.4" y="118.9" width="0.40" height="0.40" fill="#fff" opacity="0.48"/>
<rect x="396.1" y="77.9" width="0.43" height="0.43" fill="#fff" opacity="0.28"/>
<rect x="411.9" y="120.5" width="0.41" height="0.41" fill="#fff" opacity="0.40"/>
<rect x="441.6" y="124.7" width="0.46" height="0.46" fill="#fff" opacity="0.19"/>
<rect x="456.0" y="125.5" width="0.62" height="0.62" fill="#fff" opacity="0.15"/>
<rect x="454.3" y="66.1" width="0.85" height="0.85" fill="#fff" opacity="0.48"/>
<rect x="443.6" y="43.1" width="0.78" height="0.78" fill="#fff" opacity="0.25"/>
<rect x="399.6" y="112.5" width="0.81" height="0.81" fill="#fff" opacity="0.23"/>
<rect x="380.1" y="67.3" width="0.63" height="0.63" fill="#fff" opacity="0.34"/>
<rect x="370.2" y="51.9" width="0.75" height="0.75" fill="#fff" opacity="0.64"/>
<rect x="361.6" y="83.8" width="0.77" height="0.77" fill="#fff" opacity="0.14"/>
<rect x="445.1" y="38.8" width="0.68" height="0.68" fill="#fff" opacity="0.44"/>
<rect x="423.0" y="57.9" width="0.58" height="0.58" fill="#fff" opacity="0.46"/>
<rect x="401.9" y="93.5" width="0.60" height="0.60" fill="#fff" opacity="0.37"/>
<rect x="359.7" y="89.5" width="0.62" height="0.62" fill="#fff" opacity="0.26"/>
<rect x="437.2" y="105.8" width="0.60" height="0.60" fill="#fff" opacity="0.22"/>
<rect x="406.8" y="37.7" width="0.42" height="0.42" fill="#fff" opacity="0.37"/>
<rect x="366.9" y="71.6" width="0.63" height="0.63" fill="#fff" opacity="0.14"/>
<rect x="423.9" y="35.2" width="0.75" height="0.75" fill="#fff" opacity="0.57"/>
<rect x="410.9" y="32.4" width="0.63" height="0.63" fill="#fff" opacity="0.34"/>
<rect x="456.9" y="40.7" width="0.82" height="0.82" fill="#fff" opacity="0.70"/>
<rect x="433.9" y="109.3" width="0.46" height="0.46" fill="#fff" opacity="0.69"/>
<rect x="408.8" y="123.6" width="0.85" height="0.85" fill="#fff" opacity="0.22"/>
<rect x="439.8" y="121.0" width="0.39" height="0.39" fill="#fff" opacity="0.32"/>
<rect x="436.5" y="43.0" width="0.84" height="0.84" fill="#fff" opacity="0.28"/>
<rect x="442.7" y="41.4" width="0.63" height="0.63" fill="#fff" opacity="0.65"/>
<rect x="379.1" y="53.5" width="0.63" height="0.63" fill="#fff" opacity="0.31"/>
<rect x="361.2" y="45.3" width="0.44" height="0.44" fill="#fff" opacity="0.66"/>
<rect x="428.5" y="117.4" width="0.44" height="0.44" fill="#fff" opacity="0.58"/>
<rect x="369.3" y="80.6" width="0.70" height="0.70" fill="#fff" opacity="0.33"/>
<rect x="448.7" y="83.0" width="0.67" height="0.67" fill="#fff" opacity="0.63"/>
<rect x="368.3" y="127.3" width="0.70" height="0.70" fill="#fff" opacity="0.35"/>
<rect x="440.8" y="53.7" width="0.89" height="0.89" fill="#fff" opacity="0.45"/>
<rect x="395.0" y="104.2" width="0.59" height="0.59" fill="#fff" opacity="0.22"/>
<rect x="435.2" y="31.8" width="0.80" height="0.80" fill="#fff" opacity="0.27"/>
<rect x="424.2" y="126.4" width="0.67" height="0.67" fill="#fff" opacity="0.50"/>
<rect x="390.0" y="27.1" width="0.37" height="0.37" fill="#fff" opacity="0.21"/>
<rect x="421.8" y="70.6" width="0.63" height="0.63" fill="#fff" opacity="0.64"/>
<rect x="371.1" y="49.9" width="0.71" height="0.71" fill="#fff" opacity="0.13"/>
<rect x="357.6" y="62.8" width="0.41" height="0.41" fill="#fff" opacity="0.33"/>
<rect x="380.8" y="85.9" width="0.67" height="0.67" fill="#fff" opacity="0.24"/>
<rect x="422.6" y="74.9" width="0.42" height="0.42" fill="#fff" opacity="0.66"/>
<rect x="382.8" y="42.0" width="0.40" height="0.40" fill="#fff" opacity="0.49"/>
<rect x="448.5" y="106.0" width="0.57" height="0.57" fill="#fff" opacity="0.27"/>
<rect x="358.5" y="92.1" width="0.66" height="0.66" fill="#fff" opacity="0.32"/>
<rect x="424.9" y="71.8" width="0.87" height="0.87" fill="#fff" opacity="0.55"/>
<rect x="383.3" y="118.2" width="0.37" height="0.37" fill="#fff" opacity="0.43"/>
<rect x="399.8" y="50.9" width="0.38" height="0.38" fill="#fff" opacity="0.57"/>
<rect x="358.6" y="82.6" width="0.87" height="0.87" fill="#fff" opacity="0.20"/>
<rect x="378.2" y="88.4" width="0.63" height="0.63" fill="#fff" opacity="0.49"/>
<rect x="442.5" y="44.6" width="0.52" height="0.52" fill="#fff" opacity="0.29"/>
<rect x="362.4" y="116.8" width="0.78" height="0.78" fill="#fff" opacity="0.53"/>
<rect x="358.0" y="112.3" width="0.76" height="0.76" fill="#fff" opacity="0.39"/>
<rect x="435.0" y="72.6" width="0.47" height="0.47" fill="#fff" opacity="0.18"/>
<rect x="381.6" y="30.8" width="0.53" height="0.53" fill="#fff" opacity="0.55"/>
<rect x="430.1" y="112.4" width="0.74" height="0.74" fill="#fff" opacity="0.27"/>
<rect x="415.3" y="71.0" width="0.78" height="0.78" fill="#fff" opacity="0.42"/>
<rect x="385.1" y="91.8" width="0.88" height="0.88" fill="#fff" opacity="0.25"/>
<rect x="449.4" y="28.4" width="0.49" height="0.49" fill="#fff" opacity="0.26"/>
<rect x="435.2" y="122.4" width="0.76" height="0.76" fill="#fff" opacity="0.31"/>
<rect x="449.5" y="60.1" width="0.48" height="0.48" fill="#fff" opacity="0.65"/>
<rect x="423.3" y="96.9" width="0.72" height="0.72" fill="#fff" opacity="0.69"/>
<rect x="406.5" y="111.8" width="0.73" height="0.73" fill="#fff" opacity="0.62"/>
<rect x="403.1" y="100.2" width="0.66" height="0.66" fill="#fff" opacity="0.30"/>
<rect x="379.5" y="89.8" width="0.39" height="0.39" fill="#fff" opacity="0.65"/>
<rect x="372.4" y="29.6" width="0.41" height="0.41" fill="#fff" opacity="0.66"/>
<rect x="393.4" y="41.2" width="0.37" height="0.37" fill="#fff" opacity="0.14"/>
<rect x="429.8" y="91.0" width="0.73" height="0.73" fill="#fff" opacity="0.55"/>
<rect x="364.2" y="86.6" width="0.55" height="0.55" fill="#fff" opacity="0.59"/>
<rect x="443.1" y="117.0" width="0.39" height="0.39" fill="#fff" opacity="0.62"/>
<rect x="453.0" y="122.4" width="0.41" height="0.41" fill="#fff" opacity="0.24"/>
<rect x="369.0" y="30.4" width="0.82" height="0.82" fill="#fff" opacity="0.59"/>
<rect x="423.7" y="110.3" width="0.70" height="0.70" fill="#fff" opacity="0.29"/>
<rect x="367.8" y="36.8" width="0.77" height="0.77" fill="#fff" opacity="0.24"/>
<rect x="390.7" y="69.7" width="0.36" height="0.36" fill="#fff" opacity="0.27"/>
<rect x="386.9" y="99.3" width="0.55" height="0.55" fill="#fff" opacity="0.31"/>
<rect x="458.2" y="77.8" width="0.82" height="0.82" fill="#fff" opacity="0.48"/>
<rect x="360.5" y="68.6" width="0.59" height="0.59" fill="#fff" opacity="0.57"/>
<rect x="393.6" y="98.1" width="0.65" height="0.65" fill="#fff" opacity="0.25"/>
<rect x="447.6" y="36.1" width="0.80" height="0.80" fill="#fff" opacity="0.22"/>
<rect x="357.4" y="47.3" width="0.77" height="0.77" fill="#fff" opacity="0.69"/>
<rect x="357.8" y="76.5" width="0.62" height="0.62" fill="#fff" opacity="0.58"/>
<rect x="376.6" y="76.9" width="0.54" height="0.54" fill="#fff" opacity="0.60"/>
<rect x="384.6" y="122.3" width="0.51" height="0.51" fill="#fff" opacity="0.24"/>
<rect x="430.5" y="77.3" width="0.41" height="0.41" fill="#fff" opacity="0.49"/>
<rect x="365.8" y="106.6" width="0.73" height="0.73" fill="#fff" opacity="0.58"/>
<rect x="423.0" y="62.9" width="0.57" height="0.57" fill="#fff" opacity="0.35"/>
<rect x="450.5" y="35.6" width="0.84" height="0.84" fill="#fff" opacity="0.13"/>
<rect x="378.9" y="53.5" width="0.85" height="0.85" fill="#fff" opacity="0.41"/>
<rect x="397.0" y="116.3" width="0.48" height="0.48" fill="#fff" opacity="0.39"/>
<rect x="413.0" y="103.2" width="0.76" height="0.76" fill="#fff" opacity="0.49"/>
<rect x="393.8" y="59.9" width="0.44" height="0.44" fill="#fff" opacity="0.61"/>
<rect x="426.6" y="101.9" width="0.44" height="0.44" fill="#fff" opacity="0.37"/>
<rect x="438.3" y="85.5" width="0.42" height="0.42" fill="#fff" opacity="0.39"/>
<rect x="450.0" y="51.0" width="0.46" height="0.46" fill="#fff" opacity="0.29"/>
<rect x="430.9" y="112.2" width="0.44" height="0.44" fill="#fff" opacity="0.21"/>
<rect x="383.2" y="59.9" width="0.64" height="0.64" fill="#fff" opacity="0.21"/>
<rect x="391.6" y="46.0" width="0.89" height="0.89" fill="#fff" opacity="0.54"/>
<rect x="368.0" y="124.2" width="0.41" height="0.41" fill="#fff" opacity="0.34"/>
<rect x="460.3" y="107.3" width="0.75" height="0.75" fill="#fff" opacity="0.37"/>
<rect x="377.8" y="91.4" width="0.41" height="0.41" fill="#fff" opacity="0.24"/>
<rect x="398.0" y="30.3" width="0.57" height="0.57" fill="#fff" opacity="0.58"/>
<rect x="429.9" y="77.5" width="0.70" height="0.70" fill="#fff" opacity="0.39"/>
<rect x="372.1" y="87.9" width="0.57" height="0.57" fill="#fff" opacity="0.55"/>
<rect x="452.4" y="70.4" width="0.67" height="0.67" fill="#fff" opacity="0.55"/>
<rect x="401.4" y="50.0" width="0.75" height="0.75" fill="#fff" opacity="0.63"/>
<rect x="438.3" y="97.7" width="0.82" height="0.82" fill="#fff" opacity="0.51"/>
<rect x="424.5" y="72.8" width="0.52" height="0.52" fill="#fff" opacity="0.48"/>
<rect x="367.5" y="69.3" width="0.78" height="0.78" fill="#fff" opacity="0.53"/>
<rect x="423.2" y="52.2" width="0.58" height="0.58" fill="#fff" opacity="0.38"/>
<rect x="422.4" y="68.3" width="0.72" height="0.72" fill="#fff" opacity="0.66"/>
<rect x="376.5" y="93.1" width="0.78" height="0.78" fill="#fff" opacity="0.35"/>
<rect x="408.6" y="125.4" width="0.37" height="0.37" fill="#fff" opacity="0.44"/>
<rect x="374.1" y="105.9" width="0.87" height="0.87" fill="#fff" opacity="0.42"/>
<rect x="367.9" y="85.0" width="0.65" height="0.65" fill="#fff" opacity="0.54"/>
<rect x="410.9" y="91.5" width="0.81" height="0.81" fill="#fff" opacity="0.42"/>
<rect x="400.3" y="122.7" width="0.47" height="0.47" fill="#fff" opacity="0.52"/>
<rect x="398.4" y="104.0" width="0.42" height="0.42" fill="#fff" opacity="0.69"/>
<rect x="394.5" y="32.6" width="0.50" height="0.50" fill="#fff" opacity="0.35"/>
<rect x="358.7" y="69.2" width="0.58" height="0.58" fill="#fff" opacity="0.52"/>
<rect x="394.2" y="53.7" width="0.47" height="0.47" fill="#fff" opacity="0.55"/>
<rect x="455.7" y="80.2" width="0.47" height="0.47" fill="#fff" opacity="0.58"/>
<rect x="398.3" y="48.3" width="0.42" height="0.42" fill="#fff" opacity="0.57"/>
<rect x="442.1" y="91.0" width="0.61" height="0.61" fill="#fff" opacity="0.45"/>
<rect x="381.0" y="124.3" width="0.54" height="0.54" fill="#fff" opacity="0.49"/>
<rect x="443.0" y="109.4" width="0.61" height="0.61" fill="#fff" opacity="0.29"/>
<rect x="414.7" y="39.6" width="0.81" height="0.81" fill="#fff" opacity="0.33"/>
<rect x="446.4" y="53.9" width="0.56" height="0.56" fill="#fff" opacity="0.27"/>
<rect x="401.9" y="45.7" width="0.35" height="0.35" fill="#fff" opacity="0.54"/>
<rect x="386.7" y="51.7" width="0.52" height="0.52" fill="#fff" opacity="0.40"/>
<rect x="402.2" y="91.3" width="0.71" height="0.71" fill="#fff" opacity="0.33"/>
<rect x="454.5" y="113.3" width="0.38" height="0.38" fill="#fff" opacity="0.60"/>
<rect x="452.1" y="106.2" width="0.43" height="0.43" fill="#fff" opacity="0.60"/>
<rect x="423.6" y="28.4" width="0.36" height="0.36" fill="#fff" opacity="0.67"/>
<rect x="426.0" y="52.2" width="0.41" height="0.41" fill="#fff" opacity="0.20"/>
<rect x="381.8" y="105.4" width="0.54" height="0.54" fill="#fff" opacity="0.21"/>
<rect x="452.0" y="106.9" width="0.44" height="0.44" fill="#fff" opacity="0.64"/>
<rect x="421.0" y="105.9" width="0.72" height="0.72" fill="#fff" opacity="0.64"/>
<rect x="439.8" y="111.7" width="0.46" height="0.46" fill="#fff" opacity="0.52"/>
<rect x="446.3" y="122.4" width="11.0" height="2.5" fill="#fff"/>
<rect x="465.3" y="25.9" width="106.6" height="103.1" fill="#0c0608"/>
<rect x="521.8" y="101.9" width="0.59" height="0.59" fill="#fff" opacity="0.63"/>
<rect x="524.4" y="53.6" width="0.48" height="0.48" fill="#fff" opacity="0.20"/>
<rect x="517.9" y="32.8" width="0.61" height="0.61" fill="#fff" opacity="0.20"/>
<rect x="517.7" y="77.3" width="0.65" height="0.65" fill="#fff" opacity="0.62"/>
<rect x="467.0" y="111.9" width="0.61" height="0.61" fill="#fff" opacity="0.45"/>
<rect x="535.9" y="111.9" width="0.56" height="0.56" fill="#fff" opacity="0.36"/>
<rect x="566.8" y="34.5" width="0.70" height="0.70" fill="#fff" opacity="0.49"/>
<rect x="469.3" y="88.5" width="0.73" height="0.73" fill="#fff" opacity="0.66"/>
<rect x="500.9" y="126.2" width="0.63" height="0.63" fill="#fff" opacity="0.40"/>
<rect x="560.2" y="30.3" width="0.75" height="0.75" fill="#fff" opacity="0.48"/>
<rect x="501.7" y="114.0" width="0.55" height="0.55" fill="#fff" opacity="0.40"/>
<rect x="521.3" y="104.8" width="0.47" height="0.47" fill="#fff" opacity="0.37"/>
<rect x="510.5" y="82.9" width="0.80" height="0.80" fill="#fff" opacity="0.29"/>
<rect x="552.9" y="67.7" width="0.63" height="0.63" fill="#fff" opacity="0.28"/>
<rect x="519.3" y="125.5" width="0.71" height="0.71" fill="#fff" opacity="0.58"/>
<rect x="500.9" y="59.0" width="0.51" height="0.51" fill="#fff" opacity="0.46"/>
<rect x="532.7" y="106.2" width="0.37" height="0.37" fill="#fff" opacity="0.54"/>
<rect x="558.9" y="82.0" width="0.38" height="0.38" fill="#fff" opacity="0.29"/>
<rect x="466.9" y="46.1" width="0.86" height="0.86" fill="#fff" opacity="0.47"/>
<rect x="535.1" y="106.7" width="0.85" height="0.85" fill="#fff" opacity="0.47"/>
<rect x="530.8" y="90.3" width="0.73" height="0.73" fill="#fff" opacity="0.47"/>
<rect x="537.5" y="48.4" width="0.72" height="0.72" fill="#fff" opacity="0.39"/>
<rect x="546.1" y="37.1" width="0.45" height="0.45" fill="#fff" opacity="0.14"/>
<rect x="547.3" y="119.3" width="0.71" height="0.71" fill="#fff" opacity="0.33"/>
<rect x="552.3" y="106.4" width="0.66" height="0.66" fill="#fff" opacity="0.27"/>
<rect x="497.9" y="69.5" width="0.53" height="0.53" fill="#fff" opacity="0.37"/>
<rect x="533.4" y="121.3" width="0.38" height="0.38" fill="#fff" opacity="0.45"/>
<rect x="470.4" y="38.9" width="0.80" height="0.80" fill="#fff" opacity="0.45"/>
<rect x="562.4" y="72.0" width="0.36" height="0.36" fill="#fff" opacity="0.34"/>
<rect x="528.2" y="121.7" width="0.89" height="0.89" fill="#fff" opacity="0.40"/>
<rect x="509.4" y="37.2" width="0.70" height="0.70" fill="#fff" opacity="0.24"/>
<rect x="482.2" y="28.5" width="0.35" height="0.35" fill="#fff" opacity="0.52"/>
<rect x="479.0" y="124.6" width="0.40" height="0.40" fill="#fff" opacity="0.62"/>
<rect x="479.8" y="28.7" width="0.75" height="0.75" fill="#fff" opacity="0.26"/>
<rect x="543.0" y="45.8" width="0.38" height="0.38" fill="#fff" opacity="0.57"/>
<rect x="540.9" y="113.4" width="0.75" height="0.75" fill="#fff" opacity="0.17"/>
<rect x="532.1" y="98.6" width="0.60" height="0.60" fill="#fff" opacity="0.66"/>
<rect x="492.9" y="124.4" width="0.74" height="0.74" fill="#fff" opacity="0.13"/>
<rect x="467.8" y="92.7" width="0.80" height="0.80" fill="#fff" opacity="0.17"/>
<rect x="498.8" y="100.6" width="0.44" height="0.44" fill="#fff" opacity="0.62"/>
<rect x="517.2" y="32.9" width="0.55" height="0.55" fill="#fff" opacity="0.45"/>
<rect x="512.2" y="95.3" width="0.43" height="0.43" fill="#fff" opacity="0.58"/>
<rect x="504.3" y="92.1" width="0.70" height="0.70" fill="#fff" opacity="0.36"/>
<rect x="506.6" y="106.4" width="0.87" height="0.87" fill="#fff" opacity="0.58"/>
<rect x="525.6" y="56.5" width="0.38" height="0.38" fill="#fff" opacity="0.68"/>
<rect x="539.9" y="110.6" width="0.53" height="0.53" fill="#fff" opacity="0.47"/>
<rect x="568.5" y="110.9" width="0.68" height="0.68" fill="#fff" opacity="0.30"/>
<rect x="511.1" y="116.7" width="0.56" height="0.56" fill="#fff" opacity="0.52"/>
<rect x="529.2" y="117.5" width="0.79" height="0.79" fill="#fff" opacity="0.28"/>
<rect x="466.5" y="53.5" width="0.58" height="0.58" fill="#fff" opacity="0.46"/>
<rect x="551.7" y="116.6" width="0.37" height="0.37" fill="#fff" opacity="0.60"/>
<rect x="551.2" y="114.6" width="0.66" height="0.66" fill="#fff" opacity="0.28"/>
<rect x="555.3" y="108.5" width="0.73" height="0.73" fill="#fff" opacity="0.65"/>
<rect x="502.6" y="35.5" width="0.65" height="0.65" fill="#fff" opacity="0.58"/>
<rect x="487.3" y="102.7" width="0.86" height="0.86" fill="#fff" opacity="0.26"/>
<rect x="529.8" y="95.4" width="0.61" height="0.61" fill="#fff" opacity="0.24"/>
<rect x="492.9" y="102.8" width="0.79" height="0.79" fill="#fff" opacity="0.39"/>
<rect x="475.5" y="108.4" width="0.77" height="0.77" fill="#fff" opacity="0.26"/>
<rect x="526.9" y="117.6" width="0.84" height="0.84" fill="#fff" opacity="0.42"/>
<rect x="516.2" y="86.5" width="0.45" height="0.45" fill="#fff" opacity="0.23"/>
<rect x="485.2" y="97.8" width="0.55" height="0.55" fill="#fff" opacity="0.45"/>
<rect x="508.4" y="79.2" width="0.43" height="0.43" fill="#fff" opacity="0.15"/>
<rect x="570.6" y="64.7" width="0.41" height="0.41" fill="#fff" opacity="0.49"/>
<rect x="548.7" y="42.7" width="0.68" height="0.68" fill="#fff" opacity="0.32"/>
<rect x="520.6" y="29.0" width="0.37" height="0.37" fill="#fff" opacity="0.69"/>
<rect x="556.9" y="76.1" width="0.66" height="0.66" fill="#fff" opacity="0.27"/>
<rect x="547.8" y="70.0" width="0.87" height="0.87" fill="#fff" opacity="0.57"/>
<rect x="551.9" y="124.3" width="0.49" height="0.49" fill="#fff" opacity="0.14"/>
<rect x="487.3" y="45.2" width="0.40" height="0.40" fill="#fff" opacity="0.15"/>
<rect x="524.6" y="114.9" width="0.60" height="0.60" fill="#fff" opacity="0.67"/>
<rect x="561.5" y="33.4" width="0.68" height="0.68" fill="#fff" opacity="0.35"/>
<rect x="478.8" y="123.9" width="0.49" height="0.49" fill="#fff" opacity="0.45"/>
<rect x="533.3" y="123.6" width="0.72" height="0.72" fill="#fff" opacity="0.35"/>
<rect x="513.2" y="43.0" width="0.88" height="0.88" fill="#fff" opacity="0.70"/>
<rect x="489.5" y="30.8" width="0.49" height="0.49" fill="#fff" opacity="0.32"/>
<rect x="560.7" y="118.4" width="0.81" height="0.81" fill="#fff" opacity="0.15"/>
<rect x="548.6" y="98.6" width="0.71" height="0.71" fill="#fff" opacity="0.69"/>
<rect x="472.1" y="41.5" width="0.77" height="0.77" fill="#fff" opacity="0.66"/>
<rect x="537.1" y="57.1" width="0.68" height="0.68" fill="#fff" opacity="0.56"/>
<rect x="477.3" y="59.6" width="0.49" height="0.49" fill="#fff" opacity="0.19"/>
<rect x="516.6" y="43.9" width="0.48" height="0.48" fill="#fff" opacity="0.20"/>
<rect x="537.2" y="28.2" width="0.74" height="0.74" fill="#fff" opacity="0.23"/>
<rect x="470.1" y="120.7" width="0.47" height="0.47" fill="#fff" opacity="0.66"/>
<rect x="557.0" y="116.7" width="0.43" height="0.43" fill="#fff" opacity="0.38"/>
<rect x="476.4" y="120.8" width="0.81" height="0.81" fill="#fff" opacity="0.48"/>
<rect x="513.6" y="61.3" width="0.80" height="0.80" fill="#fff" opacity="0.40"/>
<rect x="532.0" y="41.3" width="0.47" height="0.47" fill="#fff" opacity="0.15"/>
<rect x="541.0" y="82.8" width="0.43" height="0.43" fill="#fff" opacity="0.63"/>
<rect x="494.2" y="68.5" width="0.44" height="0.44" fill="#fff" opacity="0.28"/>
<rect x="554.1" y="60.7" width="0.44" height="0.44" fill="#fff" opacity="0.40"/>
<rect x="556.3" y="122.4" width="11.0" height="2.5" fill="#fff"/>
<rect x="575.0" y="25.9" width="107.3" height="103.1" fill="#0c0608"/>
<rect x="609.5" y="118.2" width="0.41" height="0.41" fill="#fff" opacity="0.35"/>
<rect x="582.0" y="117.4" width="0.72" height="0.72" fill="#fff" opacity="0.17"/>
<rect x="626.3" y="55.8" width="0.49" height="0.49" fill="#fff" opacity="0.17"/>
<rect x="614.4" y="127.1" width="0.90" height="0.90" fill="#fff" opacity="0.33"/>
<rect x="586.3" y="56.2" width="0.84" height="0.84" fill="#fff" opacity="0.13"/>
<rect x="652.5" y="56.6" width="0.89" height="0.89" fill="#fff" opacity="0.12"/>
<rect x="661.0" y="61.4" width="0.43" height="0.43" fill="#fff" opacity="0.12"/>
<rect x="663.6" y="80.1" width="0.45" height="0.45" fill="#fff" opacity="0.22"/>
<rect x="672.0" y="49.0" width="0.66" height="0.66" fill="#fff" opacity="0.15"/>
<rect x="595.0" y="104.8" width="0.74" height="0.74" fill="#fff" opacity="0.17"/>
<rect x="584.3" y="35.7" width="0.68" height="0.68" fill="#fff" opacity="0.23"/>
<rect x="604.8" y="47.7" width="0.69" height="0.69" fill="#fff" opacity="0.28"/>
<rect x="661.5" y="85.8" width="0.46" height="0.46" fill="#fff" opacity="0.14"/>
<rect x="653.2" y="68.2" width="0.75" height="0.75" fill="#fff" opacity="0.13"/>
<rect x="668.1" y="122.4" width="11.0" height="2.5" fill="#fff"/>
<rect x="616.6" y="48.6" width="1.3" height="1.1" fill="#fff" opacity="0.8"/>
<rect x="665.8" y="87.4" width="1.4" height="1.2" fill="#fff" opacity="0.95"/>
<rect x="549.8" y="115.9" width="1.9" height="0.9" fill="#fff" opacity="0.85"/>
<text x="349.90" y="144.60" font-size="15.6" text-anchor="start" fill="#000" font-weight="bold" textLength="6.20" lengthAdjust="spacingAndGlyphs" >c</text>
<text x="477.80" y="146.70" font-size="9.8" text-anchor="start" fill="#000" font-weight="bold" textLength="93.70" lengthAdjust="spacingAndGlyphs" >H460-GFP xenograft</text>
<rect x="357" y="151.0" width="327.2" height="1.2" fill="#161616"/>
<text x="5.30" y="259.80" font-size="15.6" text-anchor="start" fill="#000" font-weight="bold" textLength="8.20" lengthAdjust="spacingAndGlyphs" >d</text>
<text x="107.20" y="258.00" font-size="9.8" text-anchor="start" fill="#000" font-weight="bold" textLength="157.30" lengthAdjust="spacingAndGlyphs" >H460 (GFP vs Non-GFP) xenograft</text>
<rect x="17.2" y="264.2" width="323.2" height="1.2" fill="#161616"/>
<text x="350.20" y="257.30" font-size="15.6" text-anchor="start" fill="#000" font-weight="bold" textLength="7.80" lengthAdjust="spacingAndGlyphs" >e</text>
<text x="487.20" y="259.30" font-size="9.8" text-anchor="start" fill="#000" font-weight="bold" textLength="71.90" lengthAdjust="spacingAndGlyphs" >A549 xenograft</text>
<rect x="357.4" y="264.0" width="326.8" height="1.2" fill="#161616"/>
<path d="M372.30,165.00 L372.30,232.80 L456.20,232.80" fill="none" stroke="#555" stroke-width="0.95"/>
<path d="M379.70,232.80 v1.4 M394.02,232.80 v1.4 M408.34,232.80 v1.4 M422.66,232.80 v1.4 M436.98,232.80 v1.4 M451.30,232.80 v1.4 M372.30,229.90 h-1.4 M372.30,224.30 h-1.4 M372.30,218.70 h-1.4 M372.30,213.10 h-1.4 M372.30,207.50 h-1.4 M372.30,201.90 h-1.4 M372.30,190.50 h-1.4 M372.30,182.40 h-1.4 M372.30,174.30 h-1.4 M372.30,166.20 h-1.4 " fill="none" stroke="#555" stroke-width="0.6"/>
<text x="379.70" y="239.10" font-size="5.0" text-anchor="middle" fill="#222" stroke="#222" stroke-width="0.150" >0</text>
<text x="394.02" y="239.10" font-size="5.0" text-anchor="middle" fill="#222" stroke="#222" stroke-width="0.150" >10</text>
<text x="408.34" y="239.10" font-size="5.0" text-anchor="middle" fill="#222" stroke="#222" stroke-width="0.150" >20</text>
<text x="422.66" y="239.10" font-size="5.0" text-anchor="middle" fill="#222" stroke="#222" stroke-width="0.150" >30</text>
<text x="436.98" y="239.10" font-size="5.0" text-anchor="middle" fill="#222" stroke="#222" stroke-width="0.150" >40</text>
<text x="451.30" y="239.10" font-size="5.0" text-anchor="middle" fill="#222" stroke="#222" stroke-width="0.150" >50</text>
<text x="369.70" y="231.70" font-size="5.0" text-anchor="end" fill="#222" stroke="#222" stroke-width="0.150" >0</text>
<text x="369.70" y="226.10" font-size="5.0" text-anchor="end" fill="#222" stroke="#222" stroke-width="0.150" >10</text>
<text x="369.70" y="220.50" font-size="5.0" text-anchor="end" fill="#222" stroke="#222" stroke-width="0.150" >20</text>
<text x="369.70" y="214.90" font-size="5.0" text-anchor="end" fill="#222" stroke="#222" stroke-width="0.150" >30</text>
<text x="369.70" y="209.30" font-size="5.0" text-anchor="end" fill="#222" stroke="#222" stroke-width="0.150" >40</text>
<text x="369.70" y="203.70" font-size="5.0" text-anchor="end" fill="#222" stroke="#222" stroke-width="0.150" >50</text>
<text x="369.70" y="192.30" font-size="5.0" text-anchor="end" fill="#222" stroke="#222" stroke-width="0.150" >1000</text>
<text x="369.70" y="184.20" font-size="5.0" text-anchor="end" fill="#222" stroke="#222" stroke-width="0.150" >2000</text>
<text x="369.70" y="176.10" font-size="5.0" text-anchor="end" fill="#222" stroke="#222" stroke-width="0.150" >3000</text>
<text x="369.70" y="168.00" font-size="5.0" text-anchor="end" fill="#222" stroke="#222" stroke-width="0.150" >4000</text>
<path d="M371.2,198.3 l2,-0.8 M371.2,197.1 l2,-0.8" stroke="#888" stroke-width="0.4"/>
<text transform="translate(354.80 198.80) rotate(-90)" x="-26.45" y="2.48" font-size="6.9" fill="#1a1a1a" stroke="#1a1a1a" stroke-width="0.221" textLength="52.90" lengthAdjust="spacingAndGlyphs">Tumor Size (mm<tspan dy="-2.9" font-size="4.0">3</tspan><tspan dy="2.9">)</tspan></text>
<text x="399.30" y="246.80" font-size="6.9" fill="#1a1a1a" stroke="#1a1a1a" stroke-width="0.221" textLength="37.20" lengthAdjust="spacingAndGlyphs">Time (Days)</text>
<path d="M379.70,229.90 L389.72,229.90 L399.75,228.20 L409.77,222.80 L422.66,217.30 L432.68,215.80 L442.71,197.50 L452.73,195.80" fill="none" stroke="#f3b0ea" stroke-width="0.4"/>
<rect x="378.80" y="229.00" width="1.80" height="1.80" fill="#f522e1"/>
<rect x="388.82" y="229.00" width="1.80" height="1.80" fill="#f522e1"/>
<rect x="398.85" y="227.30" width="1.80" height="1.80" fill="#f522e1"/>
<rect x="408.87" y="221.90" width="1.80" height="1.80" fill="#f522e1"/>
<rect x="421.76" y="216.40" width="1.80" height="1.80" fill="#f522e1"/>
<rect x="431.78" y="214.90" width="1.80" height="1.80" fill="#f522e1"/>
<rect x="441.81" y="196.60" width="1.80" height="1.80" fill="#f522e1"/>
<rect x="451.83" y="194.90" width="1.80" height="1.80" fill="#f522e1"/>
<path d="M379.70,229.90 L389.72,229.90 L399.75,227.20 L409.77,213.70 L422.66,197.00 L432.68,194.40 L442.71,189.20 L452.73,178.80" fill="none" stroke="#b9b9ee" stroke-width="0.4"/>
<rect x="378.80" y="229.00" width="1.80" height="1.80" fill="#3a3ad8"/>
<rect x="388.82" y="229.00" width="1.80" height="1.80" fill="#3a3ad8"/>
<rect x="398.85" y="226.30" width="1.80" height="1.80" fill="#3a3ad8"/>
<rect x="408.87" y="212.80" width="1.80" height="1.80" fill="#3a3ad8"/>
<rect x="421.76" y="196.10" width="1.80" height="1.80" fill="#3a3ad8"/>
<rect x="431.78" y="193.50" width="1.80" height="1.80" fill="#3a3ad8"/>
<rect x="441.81" y="188.30" width="1.80" height="1.80" fill="#3a3ad8"/>
<rect x="451.83" y="177.90" width="1.80" height="1.80" fill="#3a3ad8"/>
<path d="M379.70,229.90 L389.72,229.90 L399.75,222.00 L409.77,210.10 L422.66,196.50 L432.68,193.90 L442.71,186.60 L452.73,173.00" fill="none" stroke="#cdb4ea" stroke-width="0.4"/>
<rect x="378.80" y="229.00" width="1.80" height="1.80" fill="#8a2be2"/>
<rect x="388.82" y="229.00" width="1.80" height="1.80" fill="#8a2be2"/>
<rect x="398.85" y="221.10" width="1.80" height="1.80" fill="#8a2be2"/>
<rect x="408.87" y="209.20" width="1.80" height="1.80" fill="#8a2be2"/>
<rect x="421.76" y="195.60" width="1.80" height="1.80" fill="#8a2be2"/>
<rect x="431.78" y="193.00" width="1.80" height="1.80" fill="#8a2be2"/>
<rect x="441.81" y="185.70" width="1.80" height="1.80" fill="#8a2be2"/>
<rect x="451.83" y="172.10" width="1.80" height="1.80" fill="#8a2be2"/>
<path d="M379.70,229.90 L389.72,229.90 L399.75,217.00 L409.77,211.40 L422.66,197.00 L432.68,192.40 L442.71,184.00 L452.73,177.50" fill="none" stroke="#f0aeb4" stroke-width="0.4"/>
<rect x="378.80" y="229.00" width="1.80" height="1.80" fill="#f01e28"/>
<rect x="388.82" y="229.00" width="1.80" height="1.80" fill="#f01e28"/>
<rect x="398.85" y="216.10" width="1.80" height="1.80" fill="#f01e28"/>
<rect x="408.87" y="210.50" width="1.80" height="1.80" fill="#f01e28"/>
<rect x="421.76" y="196.10" width="1.80" height="1.80" fill="#f01e28"/>
<rect x="431.78" y="191.50" width="1.80" height="1.80" fill="#f01e28"/>
<rect x="441.81" y="183.10" width="1.80" height="1.80" fill="#f01e28"/>
<rect x="451.83" y="176.60" width="1.80" height="1.80" fill="#f01e28"/>
<path d="M379.70,229.90 L389.72,229.90 L399.75,210.30 L409.77,197.20 L422.66,195.00 L432.68,189.70 L442.71,181.40 L452.73,168.80" fill="none" stroke="#b9b9ee" stroke-width="0.4"/>
<rect x="378.80" y="229.00" width="1.80" height="1.80" fill="#2323e6"/>
<rect x="388.82" y="229.00" width="1.80" height="1.80" fill="#2323e6"/>
<rect x="398.85" y="209.40" width="1.80" height="1.80" fill="#2323e6"/>
<rect x="408.87" y="196.30" width="1.80" height="1.80" fill="#2323e6"/>
<rect x="421.76" y="194.10" width="1.80" height="1.80" fill="#2323e6"/>
<rect x="431.78" y="188.80" width="1.80" height="1.80" fill="#2323e6"/>
<rect x="441.81" y="180.50" width="1.80" height="1.80" fill="#2323e6"/>
<rect x="451.83" y="167.90" width="1.80" height="1.80" fill="#2323e6"/>
<path d="M379.70,229.90 L389.72,229.90 L399.75,229.90 L409.77,229.90 L422.66,229.90 L432.68,229.90 L442.71,229.90 L452.73,229.90" fill="none" stroke="#e8c8c8" stroke-width="0.4"/>
<rect x="378.80" y="229.00" width="1.80" height="1.80" fill="#8c8c00"/>
<rect x="388.82" y="229.00" width="1.80" height="1.80" fill="#8c8c00"/>
<rect x="398.85" y="229.00" width="1.80" height="1.80" fill="#8c8c00"/>
<rect x="408.87" y="229.00" width="1.80" height="1.80" fill="#8c8c00"/>
<rect x="421.76" y="229.00" width="1.80" height="1.80" fill="#8c8c00"/>
<rect x="431.78" y="229.00" width="1.80" height="1.80" fill="#8c8c00"/>
<rect x="441.81" y="229.00" width="1.80" height="1.80" fill="#8c8c00"/>
<rect x="451.83" y="229.00" width="1.80" height="1.80" fill="#8c8c00"/>
<path d="M374.2,156.80 h9.6" stroke="#d8d0e0" stroke-width="0.4"/>
<rect x="378.15" y="156.05" width="1.50" height="1.50" fill="#111"/>
<text x="385.50" y="158.40" font-size="4.6" text-anchor="start" fill="#222" stroke="#222" stroke-width="0.138" >112 (CTRL)</text>
<path d="M374.2,162.02 h9.6" stroke="#d8d0e0" stroke-width="0.4"/>
<rect x="378.15" y="161.27" width="1.50" height="1.50" fill="#f01e28"/>
<text x="385.50" y="163.62" font-size="4.6" text-anchor="start" fill="#222" stroke="#222" stroke-width="0.138" >113</text>
<path d="M374.2,167.24 h9.6" stroke="#d8d0e0" stroke-width="0.4"/>
<rect x="378.15" y="166.49" width="1.50" height="1.50" fill="#2323e6"/>
<text x="385.50" y="168.84" font-size="4.6" text-anchor="start" fill="#222" stroke="#222" stroke-width="0.138" >114</text>
<path d="M374.2,172.46 h9.6" stroke="#d8d0e0" stroke-width="0.4"/>
<rect x="378.15" y="171.71" width="1.50" height="1.50" fill="#f522e1"/>
<text x="385.50" y="174.06" font-size="4.6" text-anchor="start" fill="#222" stroke="#222" stroke-width="0.138" >115</text>
<path d="M374.2,177.68 h9.6" stroke="#d8d0e0" stroke-width="0.4"/>
<rect x="378.15" y="176.93" width="1.50" height="1.50" fill="#1fa01f"/>
<text x="385.50" y="179.28" font-size="4.6" text-anchor="start" fill="#222" stroke="#222" stroke-width="0.138" >116</text>
<path d="M409.6,156.80 h9.4" stroke="#d8d0e0" stroke-width="0.4"/>
<rect x="413.55" y="156.05" width="1.50" height="1.50" fill="#3a3ad8"/>
<text x="421.20" y="158.40" font-size="4.6" text-anchor="start" fill="#222" stroke="#222" stroke-width="0.138" >117</text>
<path d="M409.6,162.02 h9.4" stroke="#d8d0e0" stroke-width="0.4"/>
<rect x="413.55" y="161.27" width="1.50" height="1.50" fill="#8a2be2"/>
<text x="421.20" y="163.62" font-size="4.6" text-anchor="start" fill="#222" stroke="#222" stroke-width="0.138" >118</text>
<path d="M409.6,167.24 h9.4" stroke="#d8d0e0" stroke-width="0.4"/>
<rect x="413.55" y="166.49" width="1.50" height="1.50" fill="#6a0dad"/>
<text x="421.20" y="168.84" font-size="4.6" text-anchor="start" fill="#222" stroke="#222" stroke-width="0.138" >119 (CTRL)</text>
<path d="M409.6,172.46 h9.4" stroke="#d8d0e0" stroke-width="0.4"/>
<rect x="413.55" y="171.71" width="1.50" height="1.50" fill="#8b3a1a"/>
<text x="421.20" y="174.06" font-size="4.6" text-anchor="start" fill="#222" stroke="#222" stroke-width="0.138" >120 (CTRL)</text>
<path d="M409.6,177.68 h9.4" stroke="#d8d0e0" stroke-width="0.4"/>
<rect x="413.55" y="176.93" width="1.50" height="1.50" fill="#8c8c00"/>
<text x="421.20" y="179.28" font-size="4.6" text-anchor="start" fill="#222" stroke="#222" stroke-width="0.138" >121 (CTRL)</text>
<path d="M479.60,163.90 L479.60,233.20 L565.60,233.20" fill="none" stroke="#555" stroke-width="0.95"/>
<path d="M486.40,233.20 v1.4 M500.95,233.20 v1.4 M515.50,233.20 v1.4 M530.05,233.20 v1.4 M544.60,233.20 v1.4 M559.15,233.20 v1.4 M479.60,226.90 h-1.4 M479.60,214.40 h-1.4 M479.60,201.90 h-1.4 M479.60,189.40 h-1.4 M479.60,176.90 h-1.4 M479.60,164.40 h-1.4 " fill="none" stroke="#555" stroke-width="0.6"/>
<text x="486.40" y="239.70" font-size="5.0" text-anchor="middle" fill="#222" stroke="#222" stroke-width="0.150" >0</text>
<text x="500.95" y="239.70" font-size="5.0" text-anchor="middle" fill="#222" stroke="#222" stroke-width="0.150" >10</text>
<text x="515.50" y="239.70" font-size="5.0" text-anchor="middle" fill="#222" stroke="#222" stroke-width="0.150" >20</text>
<text x="530.05" y="239.70" font-size="5.0" text-anchor="middle" fill="#222" stroke="#222" stroke-width="0.150" >30</text>
<text x="544.60" y="239.70" font-size="5.0" text-anchor="middle" fill="#222" stroke="#222" stroke-width="0.150" >40</text>
<text x="559.15" y="239.70" font-size="5.0" text-anchor="middle" fill="#222" stroke="#222" stroke-width="0.150" >50</text>
<text x="477.00" y="228.70" font-size="5.0" text-anchor="end" fill="#222" stroke="#222" stroke-width="0.150" >0</text>
<text x="477.00" y="216.20" font-size="5.0" text-anchor="end" fill="#222" stroke="#222" stroke-width="0.150" >100</text>
<text x="477.00" y="203.70" font-size="5.0" text-anchor="end" fill="#222" stroke="#222" stroke-width="0.150" >200</text>
<text x="477.00" y="191.20" font-size="5.0" text-anchor="end" fill="#222" stroke="#222" stroke-width="0.150" >300</text>
<text x="477.00" y="178.70" font-size="5.0" text-anchor="end" fill="#222" stroke="#222" stroke-width="0.150" >400</text>
<text x="477.00" y="166.20" font-size="5.0" text-anchor="end" fill="#222" stroke="#222" stroke-width="0.150" >500</text>
<text transform="translate(462.60 198.70) rotate(-90)" x="-17.10" y="2.48" font-size="6.9" fill="#1a1a1a" stroke="#1a1a1a" stroke-width="0.221" textLength="34.20" lengthAdjust="spacingAndGlyphs">sEVs Count</text>
<text x="504.00" y="246.10" font-size="6.9" fill="#1a1a1a" stroke="#1a1a1a" stroke-width="0.221" textLength="37.40" lengthAdjust="spacingAndGlyphs">Time (Days)</text>
<path d="M486.40,225.90 L496.58,225.03 L506.77,198.15 L516.95,190.03 L530.05,195.65 L540.24,200.03 L550.42,188.15 L560.61,189.40" fill="none" stroke="#f3b0ea" stroke-width="0.4"/>
<rect x="485.50" y="225.00" width="1.80" height="1.80" fill="#f522e1"/>
<rect x="495.69" y="224.12" width="1.80" height="1.80" fill="#f522e1"/>
<rect x="505.87" y="197.25" width="1.80" height="1.80" fill="#f522e1"/>
<rect x="516.05" y="189.12" width="1.80" height="1.80" fill="#f522e1"/>
<rect x="529.15" y="194.75" width="1.80" height="1.80" fill="#f522e1"/>
<rect x="539.34" y="199.12" width="1.80" height="1.80" fill="#f522e1"/>
<rect x="549.52" y="187.25" width="1.80" height="1.80" fill="#f522e1"/>
<rect x="559.71" y="188.50" width="1.80" height="1.80" fill="#f522e1"/>
<path d="M486.40,226.03 L496.58,225.53 L506.77,210.65 L516.95,208.40 L530.05,200.65 L540.24,197.53 L550.42,191.28 L560.61,188.78" fill="none" stroke="#cdb4ea" stroke-width="0.4"/>
<rect x="485.50" y="225.12" width="1.80" height="1.80" fill="#8a2be2"/>
<rect x="495.69" y="224.62" width="1.80" height="1.80" fill="#8a2be2"/>
<rect x="505.87" y="209.75" width="1.80" height="1.80" fill="#8a2be2"/>
<rect x="516.05" y="207.50" width="1.80" height="1.80" fill="#8a2be2"/>
<rect x="529.15" y="199.75" width="1.80" height="1.80" fill="#8a2be2"/>
<rect x="539.34" y="196.62" width="1.80" height="1.80" fill="#8a2be2"/>
<rect x="549.52" y="190.38" width="1.80" height="1.80" fill="#8a2be2"/>
<rect x="559.71" y="187.88" width="1.80" height="1.80" fill="#8a2be2"/>
<path d="M486.40,226.40 L496.58,225.15 L506.77,211.28 L516.95,208.78 L530.05,199.40 L540.24,194.40 L550.42,183.78 L560.61,181.90" fill="none" stroke="#b9b9ee" stroke-width="0.4"/>
<rect x="485.50" y="225.50" width="1.80" height="1.80" fill="#3a3ad8"/>
<rect x="495.69" y="224.25" width="1.80" height="1.80" fill="#3a3ad8"/>
<rect x="505.87" y="210.38" width="1.80" height="1.80" fill="#3a3ad8"/>
<rect x="516.05" y="207.88" width="1.80" height="1.80" fill="#3a3ad8"/>
<rect x="529.15" y="198.50" width="1.80" height="1.80" fill="#3a3ad8"/>
<rect x="539.34" y="193.50" width="1.80" height="1.80" fill="#3a3ad8"/>
<rect x="549.52" y="182.88" width="1.80" height="1.80" fill="#3a3ad8"/>
<rect x="559.71" y="181.00" width="1.80" height="1.80" fill="#3a3ad8"/>
<path d="M486.40,226.28 L496.58,225.40 L506.77,204.03 L516.95,201.28 L530.05,195.03 L540.24,184.15 L550.42,191.28 L560.61,185.03" fill="none" stroke="#f0aeb4" stroke-width="0.4"/>
<rect x="485.50" y="225.38" width="1.80" height="1.80" fill="#f01e28"/>
<rect x="495.69" y="224.50" width="1.80" height="1.80" fill="#f01e28"/>
<rect x="505.87" y="203.12" width="1.80" height="1.80" fill="#f01e28"/>
<rect x="516.05" y="200.38" width="1.80" height="1.80" fill="#f01e28"/>
<rect x="529.15" y="194.12" width="1.80" height="1.80" fill="#f01e28"/>
<rect x="539.34" y="183.25" width="1.80" height="1.80" fill="#f01e28"/>
<rect x="549.52" y="190.38" width="1.80" height="1.80" fill="#f01e28"/>
<rect x="559.71" y="184.12" width="1.80" height="1.80" fill="#f01e28"/>
<path d="M486.40,226.15 L496.58,225.65 L506.77,213.78 L516.95,203.78 L530.05,197.53 L540.24,188.78 L550.42,171.28 L560.61,178.78" fill="none" stroke="#b9b9ee" stroke-width="0.4"/>
<rect x="485.50" y="225.25" width="1.80" height="1.80" fill="#2323e6"/>
<rect x="495.69" y="224.75" width="1.80" height="1.80" fill="#2323e6"/>
<rect x="505.87" y="212.88" width="1.80" height="1.80" fill="#2323e6"/>
<rect x="516.05" y="202.88" width="1.80" height="1.80" fill="#2323e6"/>
<rect x="529.15" y="196.62" width="1.80" height="1.80" fill="#2323e6"/>
<rect x="539.34" y="187.88" width="1.80" height="1.80" fill="#2323e6"/>
<rect x="549.52" y="170.38" width="1.80" height="1.80" fill="#2323e6"/>
<rect x="559.71" y="177.88" width="1.80" height="1.80" fill="#2323e6"/>
<path d="M486.40,225.65 L496.58,226.15 L506.77,226.40 L516.95,225.78 L530.05,226.53 L540.24,226.15 L550.42,226.28 L560.61,225.90" fill="none" stroke="#efd6da" stroke-width="0.3"/>
<rect x="485.60" y="224.85" width="1.60" height="1.60" fill="#111"/>
<rect x="495.78" y="225.35" width="1.60" height="1.60" fill="#111"/>
<rect x="505.97" y="225.60" width="1.60" height="1.60" fill="#111"/>
<rect x="516.15" y="224.97" width="1.60" height="1.60" fill="#111"/>
<rect x="529.25" y="225.72" width="1.60" height="1.60" fill="#111"/>
<rect x="539.44" y="225.35" width="1.60" height="1.60" fill="#111"/>
<rect x="549.62" y="225.47" width="1.60" height="1.60" fill="#111"/>
<rect x="559.81" y="225.10" width="1.60" height="1.60" fill="#111"/>
<path d="M486.40,226.53 L496.58,225.90 L506.77,225.40 L516.95,226.28 L530.05,225.15 L540.24,226.03 L550.42,225.78 L560.61,226.40" fill="none" stroke="#efd6da" stroke-width="0.3"/>
<rect x="485.60" y="225.72" width="1.60" height="1.60" fill="#1fa01f"/>
<rect x="495.78" y="225.10" width="1.60" height="1.60" fill="#1fa01f"/>
<rect x="505.97" y="224.60" width="1.60" height="1.60" fill="#1fa01f"/>
<rect x="516.15" y="225.47" width="1.60" height="1.60" fill="#1fa01f"/>
<rect x="529.25" y="224.35" width="1.60" height="1.60" fill="#1fa01f"/>
<rect x="539.44" y="225.22" width="1.60" height="1.60" fill="#1fa01f"/>
<rect x="549.62" y="224.97" width="1.60" height="1.60" fill="#1fa01f"/>
<rect x="559.81" y="225.60" width="1.60" height="1.60" fill="#1fa01f"/>
<path d="M486.40,225.40 L496.58,225.65 L506.77,225.90 L516.95,226.53 L530.05,226.15 L540.24,226.40 L550.42,226.03 L560.61,226.15" fill="none" stroke="#efd6da" stroke-width="0.3"/>
<rect x="485.60" y="224.60" width="1.60" height="1.60" fill="#6a0dad"/>
<rect x="495.78" y="224.85" width="1.60" height="1.60" fill="#6a0dad"/>
<rect x="505.97" y="225.10" width="1.60" height="1.60" fill="#6a0dad"/>
<rect x="516.15" y="225.72" width="1.60" height="1.60" fill="#6a0dad"/>
<rect x="529.25" y="225.35" width="1.60" height="1.60" fill="#6a0dad"/>
<rect x="539.44" y="225.60" width="1.60" height="1.60" fill="#6a0dad"/>
<rect x="549.62" y="225.22" width="1.60" height="1.60" fill="#6a0dad"/>
<rect x="559.81" y="225.35" width="1.60" height="1.60" fill="#6a0dad"/>
<path d="M486.40,226.15 L496.58,225.28 L506.77,224.90 L516.95,226.03 L530.05,226.40 L540.24,225.90 L550.42,226.15 L560.61,225.65" fill="none" stroke="#efd6da" stroke-width="0.3"/>
<rect x="485.60" y="225.35" width="1.60" height="1.60" fill="#8b3a1a"/>
<rect x="495.78" y="224.47" width="1.60" height="1.60" fill="#8b3a1a"/>
<rect x="505.97" y="224.10" width="1.60" height="1.60" fill="#8b3a1a"/>
<rect x="516.15" y="225.22" width="1.60" height="1.60" fill="#8b3a1a"/>
<rect x="529.25" y="225.60" width="1.60" height="1.60" fill="#8b3a1a"/>
<rect x="539.44" y="225.10" width="1.60" height="1.60" fill="#8b3a1a"/>
<rect x="549.62" y="225.35" width="1.60" height="1.60" fill="#8b3a1a"/>
<rect x="559.81" y="224.85" width="1.60" height="1.60" fill="#8b3a1a"/>
<path d="M486.40,225.15 L496.58,224.65 L506.77,224.40 L516.95,225.40 L530.05,225.78 L540.24,225.65 L550.42,225.53 L560.61,225.28" fill="none" stroke="#efd6da" stroke-width="0.3"/>
<rect x="485.60" y="224.35" width="1.60" height="1.60" fill="#8c8c00"/>
<rect x="495.78" y="223.85" width="1.60" height="1.60" fill="#8c8c00"/>
<rect x="505.97" y="223.60" width="1.60" height="1.60" fill="#8c8c00"/>
<rect x="516.15" y="224.60" width="1.60" height="1.60" fill="#8c8c00"/>
<rect x="529.25" y="224.97" width="1.60" height="1.60" fill="#8c8c00"/>
<rect x="539.44" y="224.85" width="1.60" height="1.60" fill="#8c8c00"/>
<rect x="549.62" y="224.72" width="1.60" height="1.60" fill="#8c8c00"/>
<rect x="559.81" y="224.47" width="1.60" height="1.60" fill="#8c8c00"/>
<path d="M590.50,163.00 L590.50,231.80 L677.40,231.80" fill="none" stroke="#555" stroke-width="0.95"/>
<path d="M593.00,231.80 v1.4 M603.50,231.80 v1.4 M614.00,231.80 v1.4 M642.60,231.80 v1.4 M659.80,231.80 v1.4 M676.90,231.80 v1.4 M590.50,224.50 h-1.4 M590.50,210.90 h-1.4 M590.50,197.30 h-1.4 M590.50,183.70 h-1.4 M590.50,170.10 h-1.4 " fill="none" stroke="#555" stroke-width="0.6"/>
<text x="593.00" y="238.00" font-size="5.0" text-anchor="middle" fill="#222" stroke="#222" stroke-width="0.150" >0</text>
<text x="603.50" y="238.00" font-size="5.0" text-anchor="middle" fill="#222" stroke="#222" stroke-width="0.150" >20</text>
<text x="614.00" y="238.00" font-size="5.0" text-anchor="middle" fill="#222" stroke="#222" stroke-width="0.150" >40</text>
<text x="642.60" y="238.00" font-size="5.0" text-anchor="middle" fill="#222" stroke="#222" stroke-width="0.150" >1500</text>
<text x="659.80" y="238.00" font-size="5.0" text-anchor="middle" fill="#222" stroke="#222" stroke-width="0.150" >3000</text>
<text x="676.90" y="238.00" font-size="5.0" text-anchor="middle" fill="#222" stroke="#222" stroke-width="0.150" >4500</text>
<text x="587.90" y="226.30" font-size="5.0" text-anchor="end" fill="#222" stroke="#222" stroke-width="0.150" >0</text>
<text x="587.90" y="212.70" font-size="5.0" text-anchor="end" fill="#222" stroke="#222" stroke-width="0.150" >100</text>
<text x="587.90" y="199.10" font-size="5.0" text-anchor="end" fill="#222" stroke="#222" stroke-width="0.150" >200</text>
<text x="587.90" y="185.50" font-size="5.0" text-anchor="end" fill="#222" stroke="#222" stroke-width="0.150" >300</text>
<text x="587.90" y="171.90" font-size="5.0" text-anchor="end" fill="#222" stroke="#222" stroke-width="0.150" >400</text>
<path d="M624.2,232.9 l0.9,-2.2 M625.6,232.9 l0.9,-2.2" stroke="#888" stroke-width="0.4"/>
<text transform="translate(574.60 199.50) rotate(-90)" x="-17.20" y="2.48" font-size="6.9" fill="#1a1a1a" stroke="#1a1a1a" stroke-width="0.221" textLength="34.40" lengthAdjust="spacingAndGlyphs">sEVs Count</text>
<text x="608.90" y="245.60" font-size="6.9" fill="#1a1a1a" stroke="#1a1a1a" stroke-width="0.221" textLength="55.60" lengthAdjust="spacingAndGlyphs">Tumor Size (mm<tspan dy="-2.9" font-size="4.0">3</tspan><tspan dy="2.9">)</tspan></text>
<path d="M592.85,221.98 L594.92,192.64 L599.88,184.17 L605.04,191.61 L606.69,195.12 L626.74,182.11 L629.63,184.17" fill="none" stroke="#f3b0ea" stroke-width="0.4"/>
<rect x="592.00" y="221.13" width="1.70" height="1.70" fill="#f522e1"/>
<rect x="594.07" y="191.79" width="1.70" height="1.70" fill="#f522e1"/>
<rect x="599.03" y="183.32" width="1.70" height="1.70" fill="#f522e1"/>
<rect x="604.19" y="190.76" width="1.70" height="1.70" fill="#f522e1"/>
<rect x="605.84" y="194.27" width="1.70" height="1.70" fill="#f522e1"/>
<rect x="625.89" y="181.26" width="1.70" height="1.70" fill="#f522e1"/>
<rect x="628.78" y="183.32" width="1.70" height="1.70" fill="#f522e1"/>
<path d="M592.85,221.57 L600.50,206.90 L611.86,205.04 L627.36,195.74 L631.49,192.02 L642.44,186.45 L661.86,183.14" fill="none" stroke="#cdb4ea" stroke-width="0.4"/>
<rect x="592.00" y="220.72" width="1.70" height="1.70" fill="#8a2be2"/>
<rect x="599.65" y="206.05" width="1.70" height="1.70" fill="#8a2be2"/>
<rect x="611.01" y="204.19" width="1.70" height="1.70" fill="#8a2be2"/>
<rect x="626.51" y="194.89" width="1.70" height="1.70" fill="#8a2be2"/>
<rect x="630.64" y="191.17" width="1.70" height="1.70" fill="#8a2be2"/>
<rect x="641.59" y="185.60" width="1.70" height="1.70" fill="#8a2be2"/>
<rect x="661.01" y="182.29" width="1.70" height="1.70" fill="#8a2be2"/>
<path d="M592.85,222.40 L611.45,207.11 L626.94,204.42 L630.04,194.09 L637.69,188.93 L639.13,177.56 L654.21,175.50" fill="none" stroke="#b9b9ee" stroke-width="0.4"/>
<path d="M592.85,221.29 L593.87,223.16 L591.83,223.16 Z" fill="#2a2ad0"/>
<path d="M611.45,206.00 L612.47,207.87 L610.43,207.87 Z" fill="#2a2ad0"/>
<path d="M626.94,203.32 L627.96,205.19 L625.92,205.19 Z" fill="#2a2ad0"/>
<path d="M630.04,192.99 L631.06,194.86 L629.02,194.86 Z" fill="#2a2ad0"/>
<path d="M637.69,187.82 L638.71,189.69 L636.67,189.69 Z" fill="#2a2ad0"/>
<path d="M639.13,176.46 L640.15,178.33 L638.11,178.33 Z" fill="#2a2ad0"/>
<path d="M654.21,174.39 L655.23,176.26 L653.19,176.26 Z" fill="#2a2ad0"/>
<path d="M592.85,221.78 L605.04,199.88 L610.21,196.78 L627.36,189.96 L633.97,177.98 L646.16,185.83 L655.87,179.01" fill="none" stroke="#f0aeb4" stroke-width="0.4"/>
<rect x="592.00" y="220.93" width="1.70" height="1.70" fill="#f01e28"/>
<rect x="604.19" y="199.03" width="1.70" height="1.70" fill="#f01e28"/>
<rect x="609.36" y="195.93" width="1.70" height="1.70" fill="#f01e28"/>
<rect x="626.51" y="189.11" width="1.70" height="1.70" fill="#f01e28"/>
<rect x="633.12" y="177.13" width="1.70" height="1.70" fill="#f01e28"/>
<rect x="645.31" y="184.98" width="1.70" height="1.70" fill="#f01e28"/>
<rect x="655.02" y="178.16" width="1.70" height="1.70" fill="#f01e28"/>
<path d="M592.85,222.19 L595.33,210.21 L607.73,199.26 L626.94,192.02 L630.87,183.14 L650.08,164.13 L668.68,171.98" fill="none" stroke="#b9b9ee" stroke-width="0.4"/>
<path d="M592.85,221.09 L593.87,222.96 L591.83,222.96 Z" fill="#2323e6"/>
<path d="M595.33,209.10 L596.35,210.97 L594.31,210.97 Z" fill="#2323e6"/>
<path d="M607.73,198.15 L608.75,200.02 L606.71,200.02 Z" fill="#2323e6"/>
<path d="M626.94,190.92 L627.96,192.79 L625.92,192.79 Z" fill="#2323e6"/>
<path d="M630.87,182.04 L631.89,183.91 L629.85,183.91 Z" fill="#2323e6"/>
<path d="M650.08,163.03 L651.10,164.90 L649.06,164.90 Z" fill="#2323e6"/>
<path d="M668.68,170.88 L669.70,172.75 L667.66,172.75 Z" fill="#2323e6"/>
<rect x="592.20" y="223.16" width="1.60" height="1.60" fill="#111"/>
<rect x="592.40" y="222.61" width="1.60" height="1.60" fill="#111"/>
<rect x="592.60" y="222.07" width="1.60" height="1.60" fill="#111"/>
<rect x="592.20" y="222.75" width="1.60" height="1.60" fill="#1fa01f"/>
<rect x="592.40" y="222.20" width="1.60" height="1.60" fill="#1fa01f"/>
<rect x="592.60" y="221.66" width="1.60" height="1.60" fill="#1fa01f"/>
<rect x="592.20" y="222.34" width="1.60" height="1.60" fill="#6a0dad"/>
<rect x="592.40" y="221.80" width="1.60" height="1.60" fill="#6a0dad"/>
<rect x="592.60" y="221.25" width="1.60" height="1.60" fill="#6a0dad"/>
<rect x="592.20" y="221.93" width="1.60" height="1.60" fill="#8b3a1a"/>
<rect x="592.40" y="221.39" width="1.60" height="1.60" fill="#8b3a1a"/>
<rect x="592.60" y="220.84" width="1.60" height="1.60" fill="#8b3a1a"/>
<rect x="592.20" y="221.52" width="1.60" height="1.60" fill="#8c8c00"/>
<rect x="592.40" y="220.98" width="1.60" height="1.60" fill="#8c8c00"/>
<rect x="592.60" y="220.44" width="1.60" height="1.60" fill="#8c8c00"/>
<rect x="592.15" y="223.38" width="1.70" height="1.70" fill="#8c8c00"/>
<rect x="592.15" y="222.70" width="1.70" height="1.70" fill="#8c8c00"/>
<rect x="592.15" y="222.02" width="1.70" height="1.70" fill="#8c8c00"/>
<rect x="592.15" y="221.34" width="1.70" height="1.70" fill="#8c8c00"/>
<rect x="592.15" y="220.66" width="1.70" height="1.70" fill="#8c8c00"/>
<path d="M24.70,277.90 L24.70,345.80 L111.10,345.80" fill="none" stroke="#555" stroke-width="0.95"/>
<path d="M26.40,345.80 v1.4 M45.48,345.80 v1.4 M64.56,345.80 v1.4 M83.64,345.80 v1.4 M102.72,345.80 v1.4 M24.70,340.20 h-1.4 M24.70,329.20 h-1.4 M24.70,318.20 h-1.4 M24.70,307.20 h-1.4 M24.70,296.20 h-1.4 M24.70,285.20 h-1.4 " fill="none" stroke="#555" stroke-width="0.6"/>
<text x="26.40" y="352.50" font-size="5.0" text-anchor="middle" fill="#222" stroke="#222" stroke-width="0.150" >0</text>
<text x="45.48" y="352.50" font-size="5.0" text-anchor="middle" fill="#222" stroke="#222" stroke-width="0.150" >1000</text>
<text x="64.56" y="352.50" font-size="5.0" text-anchor="middle" fill="#222" stroke="#222" stroke-width="0.150" >2000</text>
<text x="83.64" y="352.50" font-size="5.0" text-anchor="middle" fill="#222" stroke="#222" stroke-width="0.150" >3000</text>
<text x="102.72" y="352.50" font-size="5.0" text-anchor="middle" fill="#222" stroke="#222" stroke-width="0.150" >4000</text>
<text x="22.10" y="342.00" font-size="5.0" text-anchor="end" fill="#222" stroke="#222" stroke-width="0.150" >0</text>
<text x="22.10" y="331.00" font-size="5.0" text-anchor="end" fill="#222" stroke="#222" stroke-width="0.150" >100</text>
<text x="22.10" y="320.00" font-size="5.0" text-anchor="end" fill="#222" stroke="#222" stroke-width="0.150" >200</text>
<text x="22.10" y="309.00" font-size="5.0" text-anchor="end" fill="#222" stroke="#222" stroke-width="0.150" >300</text>
<text x="22.10" y="298.00" font-size="5.0" text-anchor="end" fill="#222" stroke="#222" stroke-width="0.150" >400</text>
<text x="22.10" y="287.00" font-size="5.0" text-anchor="end" fill="#222" stroke="#222" stroke-width="0.150" >500</text>
<text transform="translate(8.20 313.10) rotate(-90)" x="-18.30" y="2.59" font-size="7.2" fill="#1a1a1a" stroke="#1a1a1a" stroke-width="0.230" textLength="36.60" lengthAdjust="spacingAndGlyphs">sEVs Count</text>
<text x="43.50" y="359.60" font-size="7.2" fill="#1a1a1a" stroke="#1a1a1a" stroke-width="0.230" textLength="56.20" lengthAdjust="spacingAndGlyphs">Tumor Size (mm<tspan dy="-2.9" font-size="4.0">3</tspan><tspan dy="2.9">)</tspan></text>
<path d="M26.40,326.45 L27.35,324.08 L28.31,322.55 L29.26,321.41 L30.22,320.51 L31.17,319.76 L32.12,319.12 L33.08,318.57 L34.03,318.07 L34.99,317.63 L35.94,317.22 L36.89,316.85 L37.85,316.51 L38.80,316.19 L39.76,315.90 L40.71,315.62 L41.66,315.36 L42.62,315.12 L43.57,314.88 L44.53,314.66 L45.48,314.45 L46.43,314.25 L47.39,314.06 L48.34,313.87 L49.30,313.70 L50.25,313.53 L51.20,313.36 L52.16,313.21 L53.11,313.05 L54.07,312.91 L55.02,312.76 L55.97,312.63 L56.93,312.49 L57.88,312.36 L58.84,312.24 L59.79,312.11 L60.74,312.00 L61.70,311.88 L62.65,311.77 L63.61,311.66 L64.56,311.55 L65.51,311.44 L66.47,311.34 L67.42,311.24 L68.38,311.14 L69.33,311.05 L70.28,310.95 L71.24,310.86 L72.19,310.77 L73.15,310.68 L74.10,310.60 L75.05,310.51 L76.01,310.43 L76.96,310.35 L77.92,310.27 L78.87,310.19 L79.82,310.11 L80.78,310.03 L81.73,309.96 L82.69,309.89 L83.64,309.81 L84.59,309.74 L85.55,309.67 L86.50,309.60 L87.46,309.54 L88.41,309.47 L89.36,309.40 L90.32,309.34 L91.27,309.27 L92.23,309.21 L93.18,309.15 L94.13,309.09 L95.09,309.03 L96.04,308.97 L97.00,308.91 L97.95,308.85 L98.90,308.79 L99.86,308.74 L100.81,308.68 L101.77,308.63 L102.72,308.57 L103.67,308.52 L104.63,308.47 L105.58,308.41 L106.54,308.36 L107.49,308.31 L108.44,308.26" fill="none" stroke="#9a9a9a" stroke-width="0.5"/>
<path d="M26.41,334.67 L26.41,341.20" stroke="#c4c4c4" stroke-width="0.5" fill="none"/>
<rect x="25.61" y="337.27" width="1.60" height="1.60" fill="#111"/>
<path d="M26.93,318.98 L26.93,333.36" stroke="#c4c4c4" stroke-width="0.5" fill="none"/>
<rect x="26.13" y="324.72" width="1.60" height="1.60" fill="#111"/>
<path d="M27.45,316.37 L27.45,326.82" stroke="#c4c4c4" stroke-width="0.5" fill="none"/>
<rect x="26.65" y="320.79" width="1.60" height="1.60" fill="#111"/>
<path d="M29.28,309.83 L29.28,324.21" stroke="#c4c4c4" stroke-width="0.5" fill="none"/>
<path d="M27.45,317.15 L31.37,317.15" stroke="#c4c4c4" stroke-width="0.5" fill="none"/>
<rect x="28.48" y="316.35" width="1.60" height="1.60" fill="#111"/>
<path d="M30.07,316.37 L30.07,326.04" stroke="#c4c4c4" stroke-width="0.5" fill="none"/>
<path d="M28.24,321.59 L31.90,321.59" stroke="#c4c4c4" stroke-width="0.5" fill="none"/>
<rect x="29.27" y="320.79" width="1.60" height="1.60" fill="#111"/>
<path d="M32.16,307.22 L32.16,329.96" stroke="#c4c4c4" stroke-width="0.5" fill="none"/>
<path d="M30.07,318.46 L34.25,318.46" stroke="#c4c4c4" stroke-width="0.5" fill="none"/>
<rect x="31.36" y="317.66" width="1.60" height="1.60" fill="#111"/>
<path d="M35.56,308.52 L35.56,322.90" stroke="#c4c4c4" stroke-width="0.5" fill="none"/>
<path d="M33.46,315.58 L37.65,315.58" stroke="#c4c4c4" stroke-width="0.5" fill="none"/>
<rect x="34.76" y="314.78" width="1.60" height="1.60" fill="#111"/>
<path d="M39.74,304.60 L39.74,324.99" stroke="#c4c4c4" stroke-width="0.5" fill="none"/>
<path d="M37.65,315.06 L41.83,315.06" stroke="#c4c4c4" stroke-width="0.5" fill="none"/>
<rect x="38.94" y="314.26" width="1.60" height="1.60" fill="#111"/>
<path d="M44.18,306.69 L44.18,314.54" stroke="#c4c4c4" stroke-width="0.5" fill="none"/>
<path d="M41.83,310.61 L46.54,310.61" stroke="#c4c4c4" stroke-width="0.5" fill="none"/>
<rect x="43.38" y="309.81" width="1.60" height="1.60" fill="#111"/>
<path d="M57.78,309.31 L57.78,322.38" stroke="#c4c4c4" stroke-width="0.5" fill="none"/>
<path d="M54.90,315.84 L60.65,315.84" stroke="#c4c4c4" stroke-width="0.5" fill="none"/>
<rect x="56.98" y="315.04" width="1.60" height="1.60" fill="#111"/>
<path d="M64.84,312.44 L64.84,337.28" stroke="#c4c4c4" stroke-width="0.5" fill="none"/>
<path d="M59.61,324.73 L70.07,324.73" stroke="#c4c4c4" stroke-width="0.5" fill="none"/>
<rect x="64.04" y="323.93" width="1.60" height="1.60" fill="#111"/>
<path d="M72.42,279.24 L72.42,318.20" stroke="#c4c4c4" stroke-width="0.5" fill="none"/>
<path d="M64.84,298.59 L80.00,298.59" stroke="#c4c4c4" stroke-width="0.5" fill="none"/>
<rect x="71.62" y="297.79" width="1.60" height="1.60" fill="#111"/>
<path d="M84.18,306.69 L84.18,325.52" stroke="#c4c4c4" stroke-width="0.5" fill="none"/>
<path d="M78.43,315.84 L90.20,315.84" stroke="#c4c4c4" stroke-width="0.5" fill="none"/>
<rect x="83.38" y="315.04" width="1.60" height="1.60" fill="#111"/>
<path d="M103.79,298.07 L103.79,316.37" stroke="#c4c4c4" stroke-width="0.5" fill="none"/>
<path d="M97.25,307.22 L110.33,307.22" stroke="#c4c4c4" stroke-width="0.5" fill="none"/>
<rect x="102.99" y="306.42" width="1.60" height="1.60" fill="#111"/>
<path d="M137.20,276.60 L137.20,345.20 L222.60,345.20" fill="none" stroke="#555" stroke-width="0.95"/>
<path d="M141.40,345.20 v1.4 M152.40,345.20 v1.4 M163.90,345.20 v1.4 M175.40,345.20 v1.4 M198.90,345.20 v1.4 M219.80,345.20 v1.4 M137.20,345.60 h-1.4 M137.20,331.95 h-1.4 M137.20,318.30 h-1.4 M137.20,304.65 h-1.4 M137.20,291.00 h-1.4 M137.20,277.35 h-1.4 " fill="none" stroke="#555" stroke-width="0.6"/>
<text x="141.40" y="352.40" font-size="5.0" text-anchor="middle" fill="#222" stroke="#222" stroke-width="0.150" >0</text>
<text x="152.40" y="352.40" font-size="5.0" text-anchor="middle" fill="#222" stroke="#222" stroke-width="0.150" >150</text>
<text x="163.90" y="352.40" font-size="5.0" text-anchor="middle" fill="#222" stroke="#222" stroke-width="0.150" >300</text>
<text x="175.40" y="352.40" font-size="5.0" text-anchor="middle" fill="#222" stroke="#222" stroke-width="0.150" >450</text>
<text x="198.90" y="352.40" font-size="5.0" text-anchor="middle" fill="#222" stroke="#222" stroke-width="0.150" >2000</text>
<text x="219.80" y="352.40" font-size="5.0" text-anchor="middle" fill="#222" stroke="#222" stroke-width="0.150" >4000</text>
<text x="134.60" y="347.40" font-size="5.0" text-anchor="end" fill="#222" stroke="#222" stroke-width="0.150" >0</text>
<text x="134.60" y="333.75" font-size="5.0" text-anchor="end" fill="#222" stroke="#222" stroke-width="0.150" >10</text>
<text x="134.60" y="320.10" font-size="5.0" text-anchor="end" fill="#222" stroke="#222" stroke-width="0.150" >20</text>
<text x="134.60" y="306.45" font-size="5.0" text-anchor="end" fill="#222" stroke="#222" stroke-width="0.150" >30</text>
<text x="134.60" y="292.80" font-size="5.0" text-anchor="end" fill="#222" stroke="#222" stroke-width="0.150" >40</text>
<text x="134.60" y="279.15" font-size="5.0" text-anchor="end" fill="#222" stroke="#222" stroke-width="0.150" >50</text>
<path d="M179.8,346.7 l0.9,-2.2 M181.2,346.7 l0.9,-2.2" stroke="#888" stroke-width="0.4"/>
<rect x="222.9" y="347.5" width="6" height="6" fill="#fff"/>
<text transform="translate(122.20 311.60) rotate(-90)" x="-35.30" y="2.59" font-size="7.2" fill="#1a1a1a" stroke="#1a1a1a" stroke-width="0.230" textLength="70.60" lengthAdjust="spacingAndGlyphs">GFP Occurrence (%)</text>
<text x="153.00" y="359.10" font-size="7.2" fill="#1a1a1a" stroke="#1a1a1a" stroke-width="0.230" textLength="56.20" lengthAdjust="spacingAndGlyphs">Tumor Size (mm<tspan dy="-2.9" font-size="4.0">3</tspan><tspan dy="2.9">)</tspan></text>
<path d="M141.37,322.90 L141.37,338.59" stroke="#c4c4c4" stroke-width="0.5" fill="none"/>
<path d="M139.87,329.96 L142.87,329.96" stroke="#c4c4c4" stroke-width="0.5" fill="none"/>
<rect x="140.57" y="329.16" width="1.60" height="1.60" fill="#111"/>
<path d="M142.68,311.14 L142.68,316.37" stroke="#c4c4c4" stroke-width="0.5" fill="none"/>
<path d="M141.18,314.01 L144.18,314.01" stroke="#c4c4c4" stroke-width="0.5" fill="none"/>
<rect x="141.88" y="313.21" width="1.60" height="1.60" fill="#111"/>
<path d="M143.46,318.98 L143.46,329.96" stroke="#c4c4c4" stroke-width="0.5" fill="none"/>
<path d="M141.96,324.73 L144.96,324.73" stroke="#c4c4c4" stroke-width="0.5" fill="none"/>
<rect x="142.66" y="323.93" width="1.60" height="1.60" fill="#111"/>
<path d="M151.83,315.06 L151.83,324.21" stroke="#c4c4c4" stroke-width="0.5" fill="none"/>
<path d="M150.33,319.50 L153.33,319.50" stroke="#c4c4c4" stroke-width="0.5" fill="none"/>
<rect x="151.03" y="318.70" width="1.60" height="1.60" fill="#111"/>
<path d="M155.23,311.14 L155.23,335.97" stroke="#c4c4c4" stroke-width="0.5" fill="none"/>
<path d="M153.73,323.42 L156.73,323.42" stroke="#c4c4c4" stroke-width="0.5" fill="none"/>
<rect x="154.43" y="322.62" width="1.60" height="1.60" fill="#111"/>
<rect x="168.28" y="338.05" width="1.60" height="1.60" fill="#111"/>
<path d="M176.14,287.61 L176.14,328.65" stroke="#c4c4c4" stroke-width="0.5" fill="none"/>
<path d="M174.64,308.00 L177.64,308.00" stroke="#c4c4c4" stroke-width="0.5" fill="none"/>
<rect x="175.34" y="307.20" width="1.60" height="1.60" fill="#111"/>
<path d="M183.20,295.45 L183.20,303.29" stroke="#c4c4c4" stroke-width="0.5" fill="none"/>
<path d="M181.70,299.90 L184.70,299.90" stroke="#c4c4c4" stroke-width="0.5" fill="none"/>
<rect x="182.40" y="299.10" width="1.60" height="1.60" fill="#111"/>
<path d="M188.95,278.46 L188.95,316.37" stroke="#c4c4c4" stroke-width="0.5" fill="none"/>
<path d="M187.45,297.02 L190.45,297.02" stroke="#c4c4c4" stroke-width="0.5" fill="none"/>
<rect x="188.15" y="296.22" width="1.60" height="1.60" fill="#111"/>
<path d="M194.71,304.60 L194.71,327.61" stroke="#c4c4c4" stroke-width="0.5" fill="none"/>
<path d="M193.21,316.10 L196.21,316.10" stroke="#c4c4c4" stroke-width="0.5" fill="none"/>
<rect x="193.91" y="315.30" width="1.60" height="1.60" fill="#111"/>
<path d="M203.33,314.54 L203.33,334.67" stroke="#c4c4c4" stroke-width="0.5" fill="none"/>
<path d="M201.83,324.47 L204.83,324.47" stroke="#c4c4c4" stroke-width="0.5" fill="none"/>
<rect x="202.53" y="323.67" width="1.60" height="1.60" fill="#111"/>
<rect x="211.16" y="338.05" width="1.60" height="1.60" fill="#111"/>
<rect x="217.70" y="309.29" width="1.60" height="1.60" fill="#111"/>
<path d="M249.70,275.30 L249.70,344.10 L336.00,344.10" fill="none" stroke="#555" stroke-width="0.95"/>
<path d="M253.00,344.10 v1.4 M264.50,344.10 v1.4 M276.00,344.10 v1.4 M287.70,344.10 v1.4 M306.60,344.10 v1.4 M323.80,344.10 v1.4 M249.70,344.60 h-1.4 M249.70,333.10 h-1.4 M249.70,321.60 h-1.4 M249.70,310.10 h-1.4 M249.70,298.60 h-1.4 M249.70,287.10 h-1.4 M249.70,275.60 h-1.4 " fill="none" stroke="#555" stroke-width="0.6"/>
<text x="253.00" y="350.80" font-size="5.0" text-anchor="middle" fill="#222" stroke="#222" stroke-width="0.150" >0</text>
<text x="264.50" y="350.80" font-size="5.0" text-anchor="middle" fill="#222" stroke="#222" stroke-width="0.150" >150</text>
<text x="276.00" y="350.80" font-size="5.0" text-anchor="middle" fill="#222" stroke="#222" stroke-width="0.150" >300</text>
<text x="287.70" y="350.80" font-size="5.0" text-anchor="middle" fill="#222" stroke="#222" stroke-width="0.150" >450</text>
<text x="306.60" y="350.80" font-size="5.0" text-anchor="middle" fill="#222" stroke="#222" stroke-width="0.150" >2000</text>
<text x="323.80" y="350.80" font-size="5.0" text-anchor="middle" fill="#222" stroke="#222" stroke-width="0.150" >4000</text>
<text x="247.10" y="346.40" font-size="5.0" text-anchor="end" fill="#222" stroke="#222" stroke-width="0.150" >0</text>
<text x="247.10" y="334.90" font-size="5.0" text-anchor="end" fill="#222" stroke="#222" stroke-width="0.150" >10</text>
<text x="247.10" y="323.40" font-size="5.0" text-anchor="end" fill="#222" stroke="#222" stroke-width="0.150" >20</text>
<text x="247.10" y="311.90" font-size="5.0" text-anchor="end" fill="#222" stroke="#222" stroke-width="0.150" >30</text>
<text x="247.10" y="300.40" font-size="5.0" text-anchor="end" fill="#222" stroke="#222" stroke-width="0.150" >40</text>
<text x="247.10" y="288.90" font-size="5.0" text-anchor="end" fill="#222" stroke="#222" stroke-width="0.150" >50</text>
<text x="247.10" y="277.40" font-size="5.0" text-anchor="end" fill="#222" stroke="#222" stroke-width="0.150" >60</text>
<path d="M291.7,345.7 l0.9,-2.2 M293.1,345.7 l0.9,-2.2" stroke="#888" stroke-width="0.4"/>
<text transform="translate(234.20 311.40) rotate(-90)" x="-36.40" y="2.59" font-size="7.2" fill="#1a1a1a" stroke="#1a1a1a" stroke-width="0.230" textLength="72.80" lengthAdjust="spacingAndGlyphs">MIR-21 Occurrence (%)</text>
<text x="264.70" y="358.00" font-size="7.2" fill="#1a1a1a" stroke="#1a1a1a" stroke-width="0.230" textLength="56.60" lengthAdjust="spacingAndGlyphs">Tumor Size (mm<tspan dy="-2.9" font-size="4.0">3</tspan><tspan dy="2.9">)</tspan></text>
<path d="M253.24,295.45 L253.24,322.90" stroke="#c4c4c4" stroke-width="0.5" fill="none"/>
<rect x="252.44" y="308.25" width="1.60" height="1.60" fill="#111"/>
<path d="M254.54,286.30 L254.54,317.67" stroke="#c4c4c4" stroke-width="0.5" fill="none"/>
<rect x="253.74" y="304.85" width="1.60" height="1.60" fill="#111"/>
<path d="M255.85,292.84 L255.85,318.98" stroke="#c4c4c4" stroke-width="0.5" fill="none"/>
<rect x="255.05" y="304.85" width="1.60" height="1.60" fill="#111"/>
<path d="M255.33,318.98 L255.33,335.45" stroke="#c4c4c4" stroke-width="0.5" fill="none"/>
<rect x="254.53" y="326.55" width="1.60" height="1.60" fill="#111"/>
<path d="M262.91,286.30 L262.91,309.83" stroke="#c4c4c4" stroke-width="0.5" fill="none"/>
<path d="M261.60,297.80 L264.22,297.80" stroke="#c4c4c4" stroke-width="0.5" fill="none"/>
<rect x="262.11" y="297.00" width="1.60" height="1.60" fill="#111"/>
<path d="M267.61,301.99 L267.61,330.75" stroke="#c4c4c4" stroke-width="0.5" fill="none"/>
<path d="M266.31,316.10 L268.92,316.10" stroke="#c4c4c4" stroke-width="0.5" fill="none"/>
<rect x="266.81" y="315.30" width="1.60" height="1.60" fill="#111"/>
<path d="M275.72,283.69 L275.72,304.60" stroke="#c4c4c4" stroke-width="0.5" fill="none"/>
<path d="M273.37,294.14 L278.59,294.14" stroke="#c4c4c4" stroke-width="0.5" fill="none"/>
<rect x="274.92" y="293.34" width="1.60" height="1.60" fill="#111"/>
<path d="M287.75,292.05 L287.75,312.44" stroke="#c4c4c4" stroke-width="0.5" fill="none"/>
<path d="M281.21,302.25 L294.28,302.25" stroke="#c4c4c4" stroke-width="0.5" fill="none"/>
<rect x="286.95" y="301.45" width="1.60" height="1.60" fill="#111"/>
<path d="M295.07,286.30 L295.07,317.67" stroke="#c4c4c4" stroke-width="0.5" fill="none"/>
<path d="M292.45,301.46 L297.68,301.46" stroke="#c4c4c4" stroke-width="0.5" fill="none"/>
<rect x="294.27" y="300.66" width="1.60" height="1.60" fill="#111"/>
<path d="M296.90,288.92 L296.90,301.99" stroke="#c4c4c4" stroke-width="0.5" fill="none"/>
<path d="M295.07,295.45 L298.73,295.45" stroke="#c4c4c4" stroke-width="0.5" fill="none"/>
<rect x="296.10" y="294.65" width="1.60" height="1.60" fill="#111"/>
<path d="M298.99,292.84 L298.99,303.29" stroke="#c4c4c4" stroke-width="0.5" fill="none"/>
<path d="M297.16,298.07 L300.82,298.07" stroke="#c4c4c4" stroke-width="0.5" fill="none"/>
<rect x="298.19" y="297.27" width="1.60" height="1.60" fill="#111"/>
<path d="M302.65,299.37 L302.65,311.14" stroke="#c4c4c4" stroke-width="0.5" fill="none"/>
<path d="M300.82,304.86 L304.48,304.86" stroke="#c4c4c4" stroke-width="0.5" fill="none"/>
<rect x="301.85" y="304.06" width="1.60" height="1.60" fill="#111"/>
<path d="M304.74,294.14 L304.74,307.22" stroke="#c4c4c4" stroke-width="0.5" fill="none"/>
<path d="M302.91,300.94 L306.57,300.94" stroke="#c4c4c4" stroke-width="0.5" fill="none"/>
<rect x="303.94" y="300.14" width="1.60" height="1.60" fill="#111"/>
<path d="M309.18,303.29 L309.18,317.67" stroke="#c4c4c4" stroke-width="0.5" fill="none"/>
<path d="M307.09,310.35 L311.27,310.35" stroke="#c4c4c4" stroke-width="0.5" fill="none"/>
<rect x="308.38" y="309.55" width="1.60" height="1.60" fill="#111"/>
<path d="M314.41,300.68 L314.41,311.92" stroke="#c4c4c4" stroke-width="0.5" fill="none"/>
<path d="M311.80,306.17 L317.03,306.17" stroke="#c4c4c4" stroke-width="0.5" fill="none"/>
<rect x="313.61" y="305.37" width="1.60" height="1.60" fill="#111"/>
<path d="M325.92,296.76 L325.92,309.31" stroke="#c4c4c4" stroke-width="0.5" fill="none"/>
<path d="M321.73,303.03 L329.58,303.03" stroke="#c4c4c4" stroke-width="0.5" fill="none"/>
<rect x="325.12" y="302.23" width="1.60" height="1.60" fill="#111"/>
<path d="M371.10,275.80 L371.10,344.10 L456.10,344.10" fill="none" stroke="#555" stroke-width="0.95"/>
<path d="M376.90,344.10 v1.4 M386.05,344.10 v1.4 M395.20,344.10 v1.4 M404.35,344.10 v1.4 M413.50,344.10 v1.4 M422.65,344.10 v1.4 M431.80,344.10 v1.4 M440.95,344.10 v1.4 M450.10,344.10 v1.4 M371.10,340.20 h-1.4 M371.10,333.10 h-1.4 M371.10,326.00 h-1.4 M371.10,319.00 h-1.4 M371.10,311.90 h-1.4 M371.10,304.90 h-1.4 M371.10,297.80 h-1.4 M371.10,290.70 h-1.4 M371.10,285.00 h-1.4 M371.10,278.50 h-1.4 " fill="none" stroke="#555" stroke-width="0.6"/>
<text x="376.90" y="350.40" font-size="5.0" text-anchor="middle" fill="#222" stroke="#222" stroke-width="0.150" >0</text>
<text x="386.05" y="350.40" font-size="5.0" text-anchor="middle" fill="#222" stroke="#222" stroke-width="0.150" >14</text>
<text x="395.20" y="350.40" font-size="5.0" text-anchor="middle" fill="#222" stroke="#222" stroke-width="0.150" >28</text>
<text x="404.35" y="350.40" font-size="5.0" text-anchor="middle" fill="#222" stroke="#222" stroke-width="0.150" >42</text>
<text x="413.50" y="350.40" font-size="5.0" text-anchor="middle" fill="#222" stroke="#222" stroke-width="0.150" >56</text>
<text x="422.65" y="350.40" font-size="5.0" text-anchor="middle" fill="#222" stroke="#222" stroke-width="0.150" >70</text>
<text x="431.80" y="350.40" font-size="5.0" text-anchor="middle" fill="#222" stroke="#222" stroke-width="0.150" >84</text>
<text x="440.95" y="350.40" font-size="5.0" text-anchor="middle" fill="#222" stroke="#222" stroke-width="0.150" >98</text>
<text x="450.10" y="350.40" font-size="5.0" text-anchor="middle" fill="#222" stroke="#222" stroke-width="0.150" >112</text>
<text x="368.50" y="342.00" font-size="5.0" text-anchor="end" fill="#222" stroke="#222" stroke-width="0.150" >0</text>
<text x="368.50" y="334.90" font-size="5.0" text-anchor="end" fill="#222" stroke="#222" stroke-width="0.150" >50</text>
<text x="368.50" y="327.80" font-size="5.0" text-anchor="end" fill="#222" stroke="#222" stroke-width="0.150" >100</text>
<text x="368.50" y="320.80" font-size="5.0" text-anchor="end" fill="#222" stroke="#222" stroke-width="0.150" >150</text>
<text x="368.50" y="313.70" font-size="5.0" text-anchor="end" fill="#222" stroke="#222" stroke-width="0.150" >200</text>
<text x="368.50" y="306.70" font-size="5.0" text-anchor="end" fill="#222" stroke="#222" stroke-width="0.150" >250</text>
<text x="368.50" y="299.60" font-size="5.0" text-anchor="end" fill="#222" stroke="#222" stroke-width="0.150" >300</text>
<text x="368.50" y="292.50" font-size="5.0" text-anchor="end" fill="#222" stroke="#222" stroke-width="0.150" >350</text>
<text x="368.50" y="286.80" font-size="5.0" text-anchor="end" fill="#222" stroke="#222" stroke-width="0.150" >500</text>
<text x="368.50" y="280.30" font-size="5.0" text-anchor="end" fill="#222" stroke="#222" stroke-width="0.150" >750</text>
<path d="M370.1,289.3 l2,-0.8 M370.1,288.1 l2,-0.8" stroke="#888" stroke-width="0.4"/>
<text transform="translate(354.10 309.90) rotate(-90)" x="-27.00" y="2.59" font-size="7.2" fill="#1a1a1a" stroke="#1a1a1a" stroke-width="0.230" textLength="54.00" lengthAdjust="spacingAndGlyphs">Tumor Size (mm<tspan dy="-2.9" font-size="4.0">3</tspan><tspan dy="2.9">)</tspan></text>
<text x="396.10" y="357.40" font-size="7.2" fill="#1a1a1a" stroke="#1a1a1a" stroke-width="0.230" textLength="38.00" lengthAdjust="spacingAndGlyphs">Time (Days)</text>
<path d="M376.90,340.66 L381.60,340.66 L386.05,340.66 L390.75,340.66 L395.20,340.66 L399.90,340.66 L404.35,340.66 L412.97,340.66 L418.99,340.66 L422.91,340.66 L427.35,340.40 L432.06,339.61 L436.50,338.30 L440.95,337.52 L445.65,336.74 L450.10,332.29 L454.80,329.94" fill="none" stroke="#c4c4c4" stroke-width="0.4"/>
<circle cx="376.90" cy="340.66" r="0.88" fill="#111"/>
<circle cx="381.60" cy="340.66" r="0.88" fill="#111"/>
<circle cx="386.05" cy="340.66" r="0.88" fill="#111"/>
<circle cx="390.75" cy="340.66" r="0.88" fill="#111"/>
<circle cx="395.20" cy="340.66" r="0.88" fill="#111"/>
<circle cx="399.90" cy="340.66" r="0.88" fill="#111"/>
<circle cx="404.35" cy="340.66" r="0.88" fill="#111"/>
<circle cx="412.97" cy="340.66" r="0.88" fill="#111"/>
<circle cx="418.99" cy="340.66" r="0.88" fill="#111"/>
<circle cx="422.91" cy="340.66" r="0.88" fill="#111"/>
<circle cx="427.35" cy="340.40" r="0.88" fill="#111"/>
<circle cx="432.06" cy="339.61" r="0.88" fill="#111"/>
<circle cx="436.50" cy="338.30" r="0.88" fill="#111"/>
<circle cx="440.95" cy="337.52" r="0.88" fill="#111"/>
<circle cx="445.65" cy="336.74" r="0.88" fill="#111"/>
<circle cx="450.10" cy="332.29" r="0.88" fill="#111"/>
<circle cx="454.80" cy="329.94" r="0.88" fill="#111"/>
<path d="M376.90,340.66 L381.60,340.66 L386.05,340.66 L390.75,340.40 L395.20,340.13 L399.90,339.61 L404.35,339.09 L412.97,338.30 L418.99,331.25 L422.91,329.42 L427.35,326.54 L432.06,322.88 L436.50,321.57 L440.95,315.56 L445.65,310.33 L450.10,306.67 L454.80,302.49" fill="none" stroke="#c2c5ee" stroke-width="0.4"/>
<path d="M376.90,339.42 L378.04,341.51 L375.76,341.51 Z" fill="#3030f0"/>
<path d="M381.60,339.42 L382.74,341.51 L380.46,341.51 Z" fill="#3030f0"/>
<path d="M386.05,339.42 L387.19,341.51 L384.91,341.51 Z" fill="#3030f0"/>
<path d="M390.75,339.16 L391.89,341.25 L389.61,341.25 Z" fill="#3030f0"/>
<path d="M395.20,338.90 L396.34,340.99 L394.06,340.99 Z" fill="#3030f0"/>
<path d="M399.90,338.38 L401.04,340.47 L398.76,340.47 Z" fill="#3030f0"/>
<path d="M404.35,337.85 L405.49,339.94 L403.21,339.94 Z" fill="#3030f0"/>
<path d="M412.97,337.07 L414.11,339.16 L411.83,339.16 Z" fill="#3030f0"/>
<path d="M418.99,330.01 L420.13,332.10 L417.85,332.10 Z" fill="#3030f0"/>
<path d="M422.91,328.18 L424.05,330.27 L421.77,330.27 Z" fill="#3030f0"/>
<path d="M427.35,325.30 L428.49,327.39 L426.21,327.39 Z" fill="#3030f0"/>
<path d="M432.06,321.64 L433.20,323.73 L430.92,323.73 Z" fill="#3030f0"/>
<path d="M436.50,320.34 L437.64,322.43 L435.36,322.43 Z" fill="#3030f0"/>
<path d="M440.95,314.32 L442.09,316.41 L439.81,316.41 Z" fill="#3030f0"/>
<path d="M445.65,309.10 L446.79,311.19 L444.51,311.19 Z" fill="#3030f0"/>
<path d="M450.10,305.43 L451.24,307.52 L448.96,307.52 Z" fill="#3030f0"/>
<path d="M454.80,301.25 L455.94,303.34 L453.66,303.34 Z" fill="#3030f0"/>
<path d="M376.90,340.66 L381.60,340.66 L386.05,340.13 L390.75,339.09 L395.20,337.52 L399.90,335.17 L404.35,334.38 L412.97,326.54 L418.99,315.04 L422.91,301.18 L427.35,293.86 L432.06,284.19 L436.50,276.87" fill="none" stroke="#c6dcc6" stroke-width="0.4"/>
<rect x="375.95" y="339.71" width="1.90" height="1.90" fill="#1ea01e"/>
<rect x="380.65" y="339.71" width="1.90" height="1.90" fill="#1ea01e"/>
<rect x="385.10" y="339.18" width="1.90" height="1.90" fill="#1ea01e"/>
<rect x="389.80" y="338.14" width="1.90" height="1.90" fill="#1ea01e"/>
<rect x="394.25" y="336.57" width="1.90" height="1.90" fill="#1ea01e"/>
<rect x="398.95" y="334.22" width="1.90" height="1.90" fill="#1ea01e"/>
<rect x="403.40" y="333.43" width="1.90" height="1.90" fill="#1ea01e"/>
<rect x="412.02" y="325.59" width="1.90" height="1.90" fill="#1ea01e"/>
<rect x="418.04" y="314.09" width="1.90" height="1.90" fill="#1ea01e"/>
<rect x="421.96" y="300.23" width="1.90" height="1.90" fill="#1ea01e"/>
<rect x="426.40" y="292.91" width="1.90" height="1.90" fill="#1ea01e"/>
<rect x="431.11" y="283.24" width="1.90" height="1.90" fill="#1ea01e"/>
<rect x="435.55" y="275.92" width="1.90" height="1.90" fill="#1ea01e"/>
<path d="M376.90,340.79 L381.60,340.79 L386.05,340.79 L390.75,340.79 L395.20,340.79 L399.90,340.79 L404.35,340.79 L412.97,340.79 L418.99,340.79 L422.91,340.79 L427.35,340.79 L432.06,340.79 L436.50,340.79 L440.95,340.79 L445.65,340.79 L450.10,340.79 L454.80,340.79" fill="none" stroke="#f3b5b5" stroke-width="0.4"/>
<rect x="376.30" y="340.19" width="1.20" height="1.20" fill="#f01e28"/>
<rect x="381.00" y="340.19" width="1.20" height="1.20" fill="#f01e28"/>
<rect x="385.45" y="340.19" width="1.20" height="1.20" fill="#f01e28"/>
<rect x="390.15" y="340.19" width="1.20" height="1.20" fill="#f01e28"/>
<rect x="394.60" y="340.19" width="1.20" height="1.20" fill="#f01e28"/>
<rect x="399.30" y="340.19" width="1.20" height="1.20" fill="#f01e28"/>
<rect x="403.75" y="340.19" width="1.20" height="1.20" fill="#f01e28"/>
<rect x="412.37" y="340.19" width="1.20" height="1.20" fill="#f01e28"/>
<rect x="418.39" y="340.19" width="1.20" height="1.20" fill="#f01e28"/>
<rect x="422.31" y="340.19" width="1.20" height="1.20" fill="#f01e28"/>
<rect x="426.75" y="340.19" width="1.20" height="1.20" fill="#f01e28"/>
<rect x="431.46" y="340.19" width="1.20" height="1.20" fill="#f01e28"/>
<rect x="435.90" y="340.19" width="1.20" height="1.20" fill="#f01e28"/>
<rect x="440.35" y="340.19" width="1.20" height="1.20" fill="#f01e28"/>
<rect x="445.05" y="340.19" width="1.20" height="1.20" fill="#f01e28"/>
<rect x="449.50" y="340.19" width="1.20" height="1.20" fill="#f01e28"/>
<rect x="454.20" y="340.19" width="1.20" height="1.20" fill="#f01e28"/>
<path d="M376.90,340.79 L381.60,340.79 L386.05,340.79 L390.75,340.79 L395.20,340.79 L399.90,340.79 L404.35,340.79 L412.97,340.79 L418.99,340.79 L422.91,340.79 L427.35,340.79 L432.06,340.79 L436.50,340.79 L440.95,340.79 L445.65,340.79 L450.10,340.79 L454.80,340.79" fill="none" stroke="#f3b0ea" stroke-width="0.4"/>
<path d="M376.90,342.02 L378.04,339.93 L375.76,339.93 Z" fill="#f522e1"/>
<path d="M381.60,342.02 L382.74,339.93 L380.46,339.93 Z" fill="#f522e1"/>
<path d="M386.05,342.02 L387.19,339.93 L384.91,339.93 Z" fill="#f522e1"/>
<path d="M390.75,342.02 L391.89,339.93 L389.61,339.93 Z" fill="#f522e1"/>
<path d="M395.20,342.02 L396.34,339.93 L394.06,339.93 Z" fill="#f522e1"/>
<path d="M399.90,342.02 L401.04,339.93 L398.76,339.93 Z" fill="#f522e1"/>
<path d="M404.35,342.02 L405.49,339.93 L403.21,339.93 Z" fill="#f522e1"/>
<path d="M412.97,342.02 L414.11,339.93 L411.83,339.93 Z" fill="#f522e1"/>
<path d="M418.99,342.02 L420.13,339.93 L417.85,339.93 Z" fill="#f522e1"/>
<path d="M422.91,342.02 L424.05,339.93 L421.77,339.93 Z" fill="#f522e1"/>
<path d="M427.35,342.02 L428.49,339.93 L426.21,339.93 Z" fill="#f522e1"/>
<path d="M432.06,342.02 L433.20,339.93 L430.92,339.93 Z" fill="#f522e1"/>
<path d="M436.50,342.02 L437.64,339.93 L435.36,339.93 Z" fill="#f522e1"/>
<path d="M440.95,342.02 L442.09,339.93 L439.81,339.93 Z" fill="#f522e1"/>
<path d="M445.65,342.02 L446.79,339.93 L444.51,339.93 Z" fill="#f522e1"/>
<path d="M450.10,342.02 L451.24,339.93 L448.96,339.93 Z" fill="#f522e1"/>
<path d="M454.80,342.02 L455.94,339.93 L453.66,339.93 Z" fill="#f522e1"/>
<path d="M377.4,281.40 h11.8" stroke="#c8c8c8" stroke-width="0.45"/>
<circle cx="383.60" cy="281.40" r="0.99" fill="#111"/>
<text x="391.00" y="283.30" font-size="5.4" text-anchor="start" fill="#222" stroke="#222" stroke-width="0.162" >276</text>
<path d="M377.4,287.70 h11.8" stroke="#f0b8b8" stroke-width="0.45"/>
<rect x="382.70" y="286.80" width="1.80" height="1.80" fill="#f01e28"/>
<text x="391.00" y="289.60" font-size="5.4" text-anchor="start" fill="#222" stroke="#222" stroke-width="0.162" >277 (CTRL)</text>
<path d="M377.4,294.00 h11.8" stroke="#c4c6ee" stroke-width="0.45"/>
<path d="M383.60,292.83 L384.68,294.81 L382.52,294.81 Z" fill="#3030f0"/>
<text x="391.00" y="295.90" font-size="5.4" text-anchor="start" fill="#222" stroke="#222" stroke-width="0.162" >278</text>
<path d="M377.4,300.30 h11.8" stroke="#f0b8ea" stroke-width="0.45"/>
<path d="M383.60,301.47 L384.68,299.49 L382.52,299.49 Z" fill="#f522e1"/>
<text x="391.00" y="302.20" font-size="5.4" text-anchor="start" fill="#222" stroke="#222" stroke-width="0.162" >279 (CTRL)</text>
<path d="M377.4,306.60 h11.8" stroke="#c2dcc2" stroke-width="0.45"/>
<path d="M383.60,305.43 L384.68,306.60 L383.60,307.77 L382.52,306.60 Z" fill="#1ea01e"/>
<text x="391.00" y="308.50" font-size="5.4" text-anchor="start" fill="#222" stroke="#222" stroke-width="0.162" >280</text>
<path d="M478.00,277.90 L478.00,345.30 L564.10,345.30" fill="none" stroke="#555" stroke-width="0.95"/>
<path d="M483.80,345.30 v1.4 M496.09,345.30 v1.4 M508.38,345.30 v1.4 M520.66,345.30 v1.4 M532.95,345.30 v1.4 M545.24,345.30 v1.4 M557.53,345.30 v1.4 M478.00,338.10 h-1.4 M478.00,324.25 h-1.4 M478.00,310.40 h-1.4 M478.00,296.55 h-1.4 M478.00,282.70 h-1.4 " fill="none" stroke="#555" stroke-width="0.6"/>
<text x="483.80" y="352.10" font-size="5.0" text-anchor="middle" fill="#222" stroke="#222" stroke-width="0.150" >0</text>
<text x="496.09" y="352.10" font-size="5.0" text-anchor="middle" fill="#222" stroke="#222" stroke-width="0.150" >20</text>
<text x="508.38" y="352.10" font-size="5.0" text-anchor="middle" fill="#222" stroke="#222" stroke-width="0.150" >40</text>
<text x="520.66" y="352.10" font-size="5.0" text-anchor="middle" fill="#222" stroke="#222" stroke-width="0.150" >60</text>
<text x="532.95" y="352.10" font-size="5.0" text-anchor="middle" fill="#222" stroke="#222" stroke-width="0.150" >80</text>
<text x="545.24" y="352.10" font-size="5.0" text-anchor="middle" fill="#222" stroke="#222" stroke-width="0.150" >100</text>
<text x="557.53" y="352.10" font-size="5.0" text-anchor="middle" fill="#222" stroke="#222" stroke-width="0.150" >120</text>
<text x="475.40" y="339.90" font-size="5.0" text-anchor="end" fill="#222" stroke="#222" stroke-width="0.150" >0</text>
<text x="475.40" y="326.05" font-size="5.0" text-anchor="end" fill="#222" stroke="#222" stroke-width="0.150" >50</text>
<text x="475.40" y="312.20" font-size="5.0" text-anchor="end" fill="#222" stroke="#222" stroke-width="0.150" >100</text>
<text x="475.40" y="298.35" font-size="5.0" text-anchor="end" fill="#222" stroke="#222" stroke-width="0.150" >150</text>
<text x="475.40" y="284.50" font-size="5.0" text-anchor="end" fill="#222" stroke="#222" stroke-width="0.150" >200</text>
<text transform="translate(463.30 312.20) rotate(-90)" x="-18.20" y="2.59" font-size="7.2" fill="#1a1a1a" stroke="#1a1a1a" stroke-width="0.230" textLength="36.40" lengthAdjust="spacingAndGlyphs">sEVs Count</text>
<text x="502.40" y="358.60" font-size="7.2" fill="#1a1a1a" stroke="#1a1a1a" stroke-width="0.230" textLength="37.80" lengthAdjust="spacingAndGlyphs">Time (Days)</text>
<path d="M483.76,336.76 L488.20,336.50 L492.39,335.97 L496.83,335.45 L501.27,335.97 L505.46,334.14 L509.90,334.14 L517.75,330.48 L523.76,335.45 L527.68,333.36 L532.12,337.28 L536.31,328.92 L540.49,318.46 L544.67,312.97 L549.12,303.82 L553.30,298.07 L557.75,296.50" fill="none" stroke="#bdbdbd" stroke-width="0.4"/>
<rect x="482.96" y="335.96" width="1.60" height="1.60" fill="#111"/>
<rect x="487.40" y="335.70" width="1.60" height="1.60" fill="#111"/>
<rect x="491.59" y="335.17" width="1.60" height="1.60" fill="#111"/>
<rect x="496.03" y="334.65" width="1.60" height="1.60" fill="#111"/>
<rect x="500.47" y="335.17" width="1.60" height="1.60" fill="#111"/>
<rect x="504.66" y="333.34" width="1.60" height="1.60" fill="#111"/>
<rect x="509.10" y="333.34" width="1.60" height="1.60" fill="#111"/>
<rect x="516.95" y="329.68" width="1.60" height="1.60" fill="#111"/>
<rect x="522.96" y="334.65" width="1.60" height="1.60" fill="#111"/>
<rect x="526.88" y="332.56" width="1.60" height="1.60" fill="#111"/>
<rect x="531.32" y="336.48" width="1.60" height="1.60" fill="#111"/>
<rect x="535.51" y="328.12" width="1.60" height="1.60" fill="#111"/>
<rect x="539.69" y="317.66" width="1.60" height="1.60" fill="#111"/>
<rect x="543.87" y="312.17" width="1.60" height="1.60" fill="#111"/>
<rect x="548.32" y="303.02" width="1.60" height="1.60" fill="#111"/>
<rect x="552.50" y="297.27" width="1.60" height="1.60" fill="#111"/>
<rect x="556.95" y="295.70" width="1.60" height="1.60" fill="#111"/>
<path d="M483.76,337.28 L488.20,335.45 L492.39,332.05 L496.83,333.88 L501.27,324.73 L505.46,323.16 L509.90,312.18 L517.75,313.75 L523.76,300.16 L527.68,295.45 L532.12,296.50 L536.31,293.10 L540.49,298.33 L544.67,294.93 L549.12,297.28 L553.30,294.93 L557.75,287.87" fill="none" stroke="#b9bcee" stroke-width="0.4"/>
<path d="M483.76,336.05 L484.90,338.14 L482.62,338.14 Z" fill="#3030f0"/>
<path d="M488.20,334.22 L489.34,336.31 L487.06,336.31 Z" fill="#3030f0"/>
<path d="M492.39,330.82 L493.53,332.91 L491.25,332.91 Z" fill="#3030f0"/>
<path d="M496.83,332.65 L497.97,334.74 L495.69,334.74 Z" fill="#3030f0"/>
<path d="M501.27,323.50 L502.41,325.59 L500.13,325.59 Z" fill="#3030f0"/>
<path d="M505.46,321.93 L506.60,324.02 L504.32,324.02 Z" fill="#3030f0"/>
<path d="M509.90,310.95 L511.04,313.04 L508.76,313.04 Z" fill="#3030f0"/>
<path d="M517.75,312.52 L518.89,314.61 L516.61,314.61 Z" fill="#3030f0"/>
<path d="M523.76,298.92 L524.90,301.01 L522.62,301.01 Z" fill="#3030f0"/>
<path d="M527.68,294.22 L528.82,296.31 L526.54,296.31 Z" fill="#3030f0"/>
<path d="M532.12,295.26 L533.26,297.35 L530.98,297.35 Z" fill="#3030f0"/>
<path d="M536.31,291.86 L537.45,293.95 L535.17,293.95 Z" fill="#3030f0"/>
<path d="M540.49,297.09 L541.63,299.18 L539.35,299.18 Z" fill="#3030f0"/>
<path d="M544.67,293.69 L545.81,295.78 L543.53,295.78 Z" fill="#3030f0"/>
<path d="M549.12,296.05 L550.26,298.14 L547.98,298.14 Z" fill="#3030f0"/>
<path d="M553.30,293.69 L554.44,295.78 L552.16,295.78 Z" fill="#3030f0"/>
<path d="M557.75,286.63 L558.89,288.72 L556.61,288.72 Z" fill="#3030f0"/>
<path d="M483.76,336.76 L488.20,335.45 L492.39,322.38 L496.83,321.59 L501.27,318.20 L505.46,312.97 L509.90,302.51 L517.75,293.62 L523.76,290.75 L527.68,289.44 L532.12,287.61 L536.31,284.21 L540.49,279.76" fill="none" stroke="#bcd9bc" stroke-width="0.4"/>
<rect x="482.86" y="335.86" width="1.80" height="1.80" fill="#1ea01e"/>
<rect x="487.30" y="334.55" width="1.80" height="1.80" fill="#1ea01e"/>
<rect x="491.49" y="321.48" width="1.80" height="1.80" fill="#1ea01e"/>
<rect x="495.93" y="320.69" width="1.80" height="1.80" fill="#1ea01e"/>
<rect x="500.37" y="317.30" width="1.80" height="1.80" fill="#1ea01e"/>
<rect x="504.56" y="312.07" width="1.80" height="1.80" fill="#1ea01e"/>
<rect x="509.00" y="301.61" width="1.80" height="1.80" fill="#1ea01e"/>
<rect x="516.85" y="292.72" width="1.80" height="1.80" fill="#1ea01e"/>
<rect x="522.86" y="289.85" width="1.80" height="1.80" fill="#1ea01e"/>
<rect x="526.78" y="288.54" width="1.80" height="1.80" fill="#1ea01e"/>
<rect x="531.22" y="286.71" width="1.80" height="1.80" fill="#1ea01e"/>
<rect x="535.41" y="283.31" width="1.80" height="1.80" fill="#1ea01e"/>
<rect x="539.59" y="278.86" width="1.80" height="1.80" fill="#1ea01e"/>
<path d="M483.76,336.50 L488.20,337.02 L492.39,337.54 L496.83,336.76 L501.27,337.28 L505.46,336.50 L509.90,337.02 L517.75,337.54 L523.76,336.76 L527.68,337.28 L532.12,336.50 L536.31,337.02 L540.49,337.54 L544.67,336.76 L549.12,337.28 L553.30,336.50 L557.75,337.02" fill="none" stroke="#f3b5b5" stroke-width="0.4"/>
<rect x="483.01" y="335.75" width="1.50" height="1.50" fill="#f01e28"/>
<rect x="487.45" y="336.27" width="1.50" height="1.50" fill="#f01e28"/>
<rect x="491.64" y="336.79" width="1.50" height="1.50" fill="#f01e28"/>
<rect x="496.08" y="336.01" width="1.50" height="1.50" fill="#f01e28"/>
<rect x="500.52" y="336.53" width="1.50" height="1.50" fill="#f01e28"/>
<rect x="504.71" y="335.75" width="1.50" height="1.50" fill="#f01e28"/>
<rect x="509.15" y="336.27" width="1.50" height="1.50" fill="#f01e28"/>
<rect x="517.00" y="336.79" width="1.50" height="1.50" fill="#f01e28"/>
<rect x="523.01" y="336.01" width="1.50" height="1.50" fill="#f01e28"/>
<rect x="526.93" y="336.53" width="1.50" height="1.50" fill="#f01e28"/>
<rect x="531.37" y="335.75" width="1.50" height="1.50" fill="#f01e28"/>
<rect x="535.56" y="336.27" width="1.50" height="1.50" fill="#f01e28"/>
<rect x="539.74" y="336.79" width="1.50" height="1.50" fill="#f01e28"/>
<rect x="543.92" y="336.01" width="1.50" height="1.50" fill="#f01e28"/>
<rect x="548.37" y="336.53" width="1.50" height="1.50" fill="#f01e28"/>
<rect x="552.55" y="335.75" width="1.50" height="1.50" fill="#f01e28"/>
<rect x="557.00" y="336.27" width="1.50" height="1.50" fill="#f01e28"/>
<path d="M483.76,337.02 L488.20,337.80 L492.39,337.28 L496.83,338.07 L501.27,337.54 L505.46,337.02 L509.90,337.80 L517.75,337.28 L523.76,338.07 L527.68,337.54 L532.12,337.02 L536.31,337.80 L540.49,337.28 L544.67,338.07 L549.12,337.54 L553.30,337.02 L557.75,337.80" fill="none" stroke="#f3b0ea" stroke-width="0.4"/>
<path d="M483.76,338.19 L484.84,336.21 L482.68,336.21 Z" fill="#f522e1"/>
<path d="M488.20,338.97 L489.28,336.99 L487.12,336.99 Z" fill="#f522e1"/>
<path d="M492.39,338.45 L493.47,336.47 L491.31,336.47 Z" fill="#f522e1"/>
<path d="M496.83,339.24 L497.91,337.26 L495.75,337.26 Z" fill="#f522e1"/>
<path d="M501.27,338.71 L502.35,336.73 L500.19,336.73 Z" fill="#f522e1"/>
<path d="M505.46,338.19 L506.54,336.21 L504.38,336.21 Z" fill="#f522e1"/>
<path d="M509.90,338.97 L510.98,336.99 L508.82,336.99 Z" fill="#f522e1"/>
<path d="M517.75,338.45 L518.83,336.47 L516.67,336.47 Z" fill="#f522e1"/>
<path d="M523.76,339.24 L524.84,337.26 L522.68,337.26 Z" fill="#f522e1"/>
<path d="M527.68,338.71 L528.76,336.73 L526.60,336.73 Z" fill="#f522e1"/>
<path d="M532.12,338.19 L533.20,336.21 L531.04,336.21 Z" fill="#f522e1"/>
<path d="M536.31,338.97 L537.39,336.99 L535.23,336.99 Z" fill="#f522e1"/>
<path d="M540.49,338.45 L541.57,336.47 L539.41,336.47 Z" fill="#f522e1"/>
<path d="M544.67,339.24 L545.75,337.26 L543.59,337.26 Z" fill="#f522e1"/>
<path d="M549.12,338.71 L550.20,336.73 L548.04,336.73 Z" fill="#f522e1"/>
<path d="M553.30,338.19 L554.38,336.21 L552.22,336.21 Z" fill="#f522e1"/>
<path d="M557.75,338.97 L558.83,336.99 L556.67,336.99 Z" fill="#f522e1"/>
<path d="M587.30,276.60 L587.30,345.40 L673.40,345.40" fill="none" stroke="#555" stroke-width="0.95"/>
<path d="M589.00,345.40 v1.4 M598.90,345.40 v1.4 M608.90,345.40 v1.4 M618.70,345.40 v1.4 M628.80,345.40 v1.4 M640.00,345.40 v1.4 M648.90,345.40 v1.4 M658.50,345.40 v1.4 M669.00,345.40 v1.4 M587.30,340.70 h-1.4 M587.30,331.66 h-1.4 M587.30,322.62 h-1.4 M587.30,313.58 h-1.4 M587.30,304.54 h-1.4 M587.30,295.50 h-1.4 M587.30,286.46 h-1.4 M587.30,277.42 h-1.4 " fill="none" stroke="#555" stroke-width="0.6"/>
<text x="589.00" y="352.00" font-size="4.9" text-anchor="middle" fill="#222" stroke="#222" stroke-width="0.147" >0</text>
<text x="598.90" y="352.00" font-size="4.9" text-anchor="middle" fill="#222" stroke="#222" stroke-width="0.147" >50</text>
<text x="608.90" y="352.00" font-size="4.9" text-anchor="middle" fill="#222" stroke="#222" stroke-width="0.147" >100</text>
<text x="618.70" y="352.00" font-size="4.9" text-anchor="middle" fill="#222" stroke="#222" stroke-width="0.147" >150</text>
<text x="628.80" y="352.00" font-size="4.9" text-anchor="middle" fill="#222" stroke="#222" stroke-width="0.147" >200</text>
<text x="640.00" y="352.00" font-size="4.9" text-anchor="middle" fill="#222" stroke="#222" stroke-width="0.147" >400</text>
<text x="648.90" y="352.00" font-size="4.9" text-anchor="middle" fill="#222" stroke="#222" stroke-width="0.147" >600</text>
<text x="658.50" y="352.00" font-size="4.9" text-anchor="middle" fill="#222" stroke="#222" stroke-width="0.147" >800</text>
<text x="669.00" y="352.00" font-size="4.9" text-anchor="middle" fill="#222" stroke="#222" stroke-width="0.147" >1000</text>
<text x="584.70" y="342.46" font-size="4.9" text-anchor="end" fill="#222" stroke="#222" stroke-width="0.147" >0</text>
<text x="584.70" y="333.42" font-size="4.9" text-anchor="end" fill="#222" stroke="#222" stroke-width="0.147" >50</text>
<text x="584.70" y="324.38" font-size="4.9" text-anchor="end" fill="#222" stroke="#222" stroke-width="0.147" >100</text>
<text x="584.70" y="315.34" font-size="4.9" text-anchor="end" fill="#222" stroke="#222" stroke-width="0.147" >150</text>
<text x="584.70" y="306.30" font-size="4.9" text-anchor="end" fill="#222" stroke="#222" stroke-width="0.147" >200</text>
<text x="584.70" y="297.26" font-size="4.9" text-anchor="end" fill="#222" stroke="#222" stroke-width="0.147" >250</text>
<text x="584.70" y="288.22" font-size="4.9" text-anchor="end" fill="#222" stroke="#222" stroke-width="0.147" >300</text>
<text x="584.70" y="279.18" font-size="4.9" text-anchor="end" fill="#222" stroke="#222" stroke-width="0.147" >350</text>
<path d="M630.1,346.2 l0.9,-2.2 M631.5,346.2 l0.9,-2.2" stroke="#888" stroke-width="0.4"/>
<text transform="translate(570.60 309.90) rotate(-90)" x="-18.30" y="2.59" font-size="7.2" fill="#1a1a1a" stroke="#1a1a1a" stroke-width="0.230" textLength="36.60" lengthAdjust="spacingAndGlyphs">sEVs Count</text>
<text x="601.90" y="358.50" font-size="7.2" fill="#1a1a1a" stroke="#1a1a1a" stroke-width="0.230" textLength="56.40" lengthAdjust="spacingAndGlyphs">Tumor Size (mm<tspan dy="-2.9" font-size="4.0">3</tspan><tspan dy="2.9">)</tspan></text>
<rect x="589.04" y="329.95" width="1.60" height="1.60" fill="#111"/>
<rect x="591.65" y="324.19" width="1.60" height="1.60" fill="#111"/>
<rect x="593.48" y="322.89" width="1.60" height="1.60" fill="#111"/>
<rect x="595.05" y="320.53" width="1.60" height="1.60" fill="#111"/>
<rect x="595.57" y="315.83" width="1.60" height="1.60" fill="#111"/>
<rect x="598.97" y="315.04" width="1.60" height="1.60" fill="#111"/>
<rect x="603.15" y="313.21" width="1.60" height="1.60" fill="#111"/>
<rect x="608.12" y="311.64" width="1.60" height="1.60" fill="#111"/>
<rect x="614.40" y="312.17" width="1.60" height="1.60" fill="#111"/>
<rect x="623.81" y="310.34" width="1.60" height="1.60" fill="#111"/>
<rect x="631.13" y="312.69" width="1.60" height="1.60" fill="#111"/>
<rect x="633.22" y="307.46" width="1.60" height="1.60" fill="#111"/>
<rect x="635.83" y="306.42" width="1.60" height="1.60" fill="#111"/>
<rect x="646.03" y="304.59" width="1.60" height="1.60" fill="#111"/>
<rect x="659.10" y="301.45" width="1.60" height="1.60" fill="#111"/>
<rect x="588.25" y="335.96" width="1.60" height="1.60" fill="#f01e28"/>
<path d="M590.36,309.83 L590.36,324.21" stroke="#f2b4b4" stroke-width="0.5" fill="none"/>
<path d="M588.16,316.63 L592.56,316.63" stroke="#f2b4b4" stroke-width="0.5" fill="none"/>
<rect x="589.56" y="315.83" width="1.60" height="1.60" fill="#f01e28"/>
<path d="M593.76,301.99 L593.76,316.37" stroke="#f2b4b4" stroke-width="0.5" fill="none"/>
<path d="M591.56,309.31 L595.96,309.31" stroke="#f2b4b4" stroke-width="0.5" fill="none"/>
<rect x="592.96" y="308.51" width="1.60" height="1.60" fill="#f01e28"/>
<path d="M596.37,311.14 L596.37,321.59" stroke="#f2b4b4" stroke-width="0.5" fill="none"/>
<path d="M594.17,316.10 L598.57,316.10" stroke="#f2b4b4" stroke-width="0.5" fill="none"/>
<rect x="595.57" y="315.30" width="1.60" height="1.60" fill="#f01e28"/>
<path d="M615.46,290.22 L615.46,312.44" stroke="#f2b4b4" stroke-width="0.5" fill="none"/>
<path d="M613.26,301.73 L617.66,301.73" stroke="#f2b4b4" stroke-width="0.5" fill="none"/>
<rect x="614.66" y="300.93" width="1.60" height="1.60" fill="#f01e28"/>
<path d="M624.61,303.29 L624.61,315.84" stroke="#f2b4b4" stroke-width="0.5" fill="none"/>
<path d="M622.41,309.57 L626.81,309.57" stroke="#f2b4b4" stroke-width="0.5" fill="none"/>
<rect x="623.81" y="308.77" width="1.60" height="1.60" fill="#f01e28"/>
<path d="M635.59,286.30 L635.59,323.42" stroke="#f2b4b4" stroke-width="0.5" fill="none"/>
<path d="M633.39,304.60 L637.79,304.60" stroke="#f2b4b4" stroke-width="0.5" fill="none"/>
<rect x="634.79" y="303.80" width="1.60" height="1.60" fill="#f01e28"/>
<path d="M642.91,292.84 L642.91,305.91" stroke="#f2b4b4" stroke-width="0.5" fill="none"/>
<path d="M640.71,299.37 L645.11,299.37" stroke="#f2b4b4" stroke-width="0.5" fill="none"/>
<rect x="642.11" y="298.57" width="1.60" height="1.60" fill="#f01e28"/>
<path d="M653.89,283.16 L653.89,314.54" stroke="#f2b4b4" stroke-width="0.5" fill="none"/>
<path d="M651.69,298.85 L656.09,298.85" stroke="#f2b4b4" stroke-width="0.5" fill="none"/>
<rect x="653.09" y="298.05" width="1.60" height="1.60" fill="#f01e28"/>
<path d="M665.13,285.78 L665.13,298.07" stroke="#f2b4b4" stroke-width="0.5" fill="none"/>
<path d="M662.93,292.31 L667.33,292.31" stroke="#f2b4b4" stroke-width="0.5" fill="none"/>
<rect x="664.33" y="291.51" width="1.60" height="1.60" fill="#f01e28"/>
<rect x="645.80" y="329.40" width="1.60" height="1.60" fill="#111"/>
<text x="653.90" y="332.10" font-size="5.5" text-anchor="start" fill="#222" stroke="#222" stroke-width="0.165" >A549</text>
<rect x="645.80" y="335.70" width="1.60" height="1.60" fill="#f01e28"/>
<text x="653.90" y="338.40" font-size="5.5" text-anchor="start" fill="#222" stroke="#222" stroke-width="0.165" >H460</text>
</svg>
</body></html>
